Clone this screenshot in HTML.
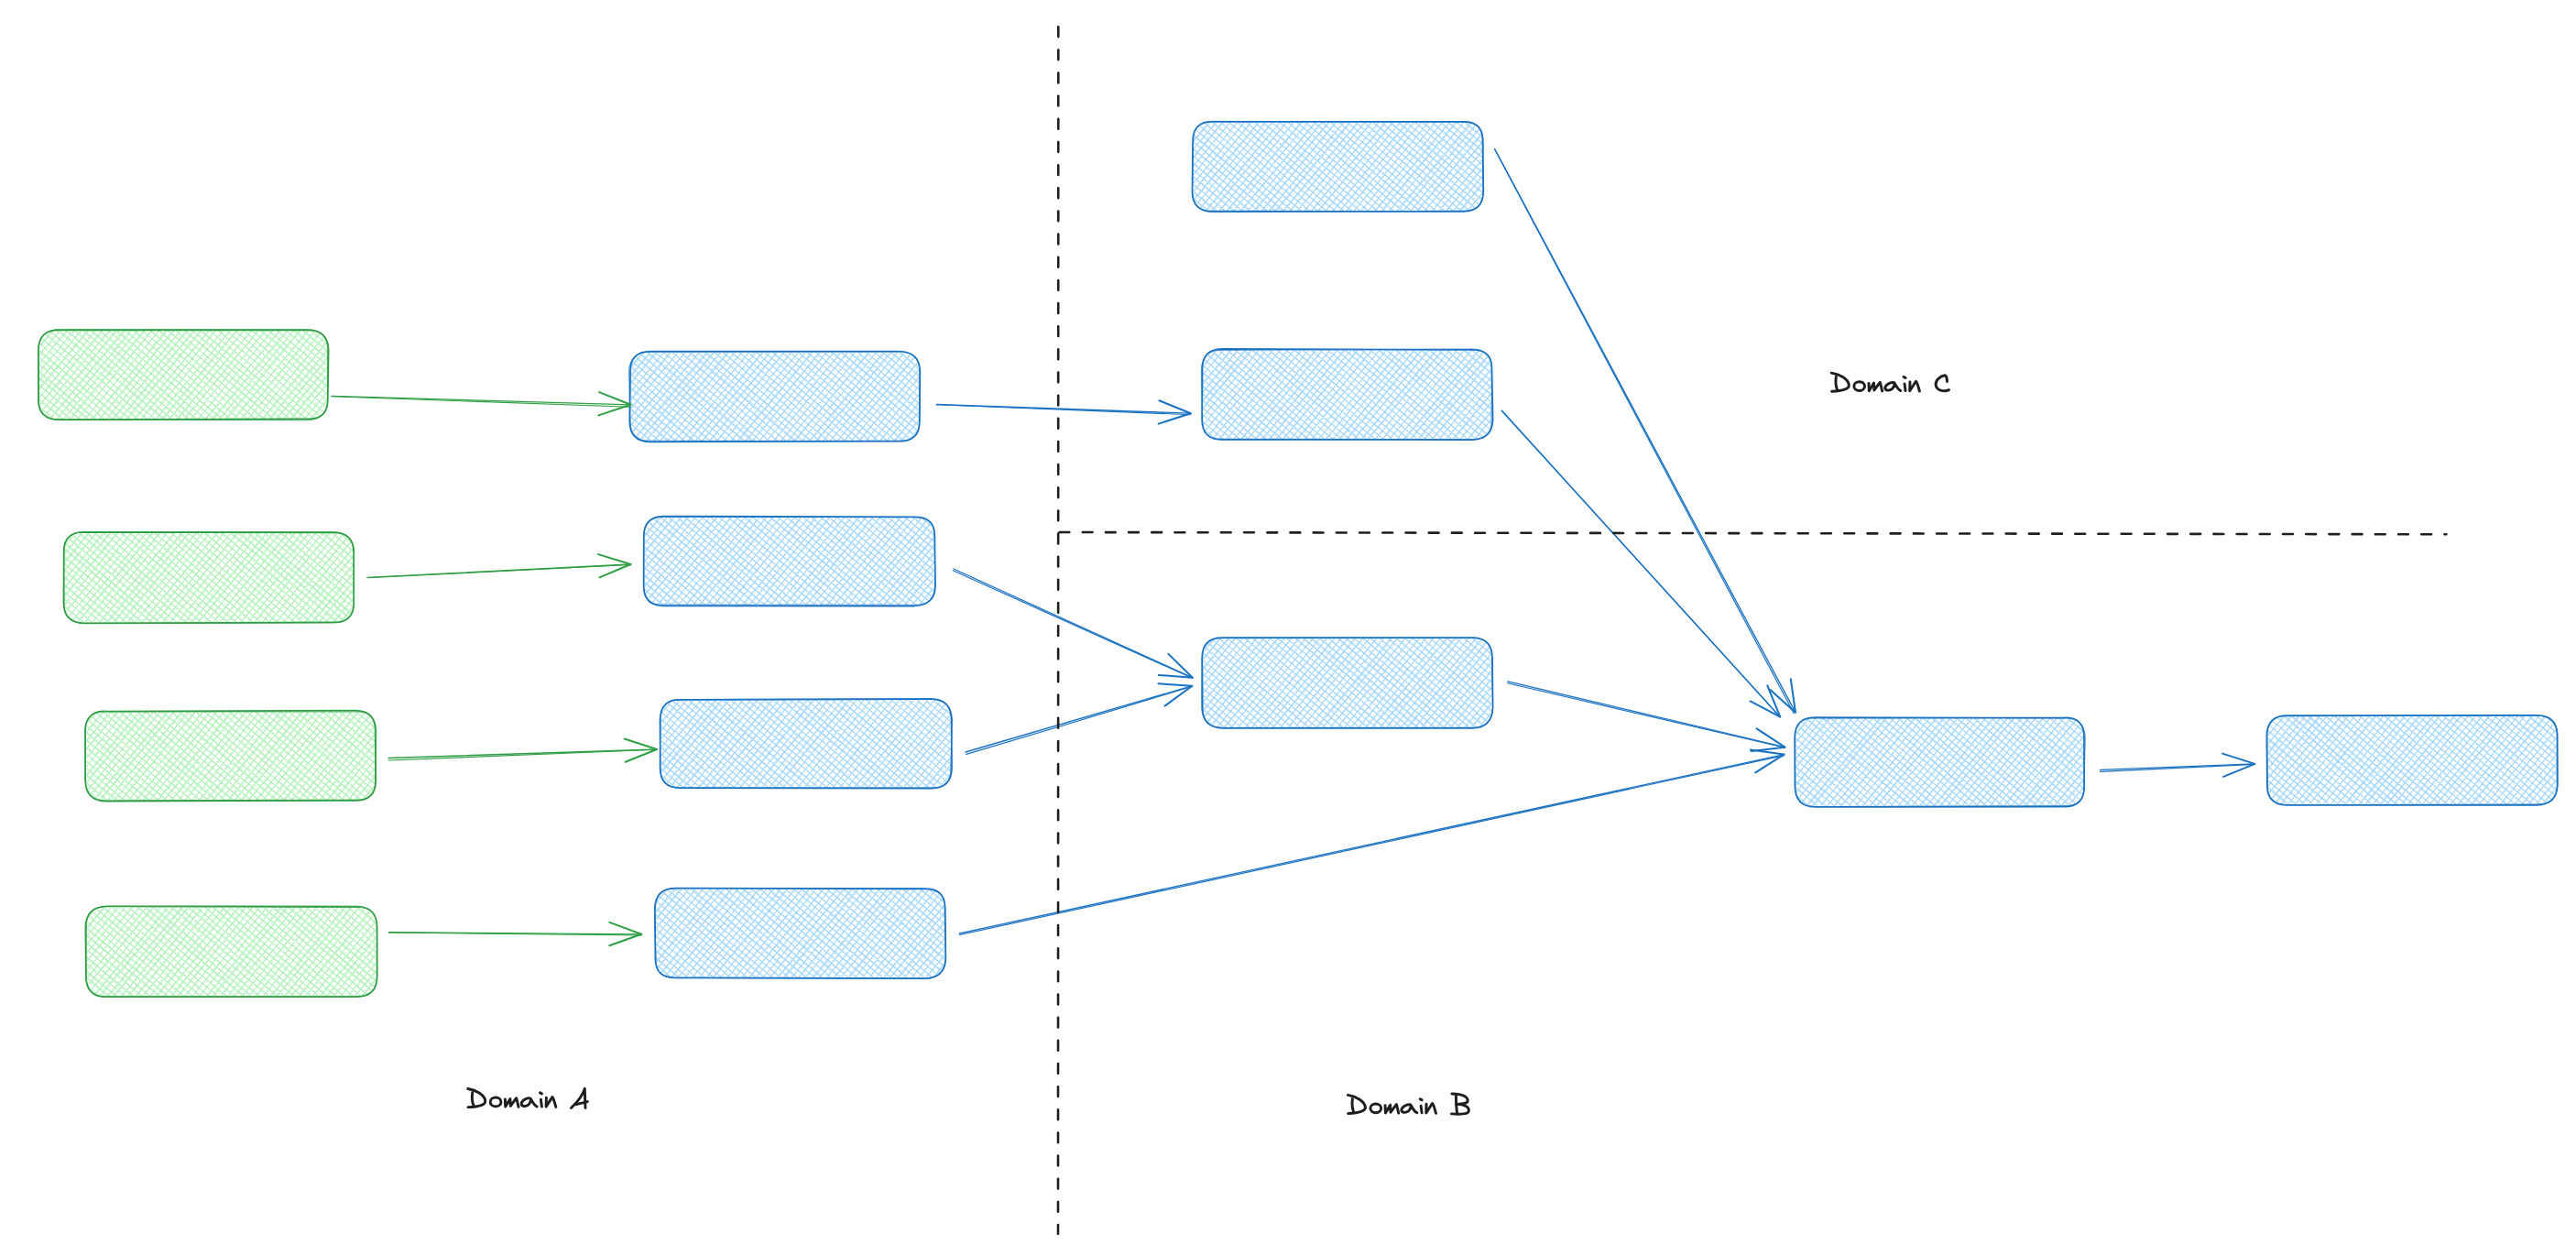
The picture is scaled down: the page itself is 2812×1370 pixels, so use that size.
<!DOCTYPE html><html><head><meta charset="utf-8"><style>html,body{margin:0;padding:0;background:#fff;}svg{display:block;}</style></head><body>
<svg width="2812" height="1370" viewBox="0 0 2812 1370">
<rect width="2812" height="1370" fill="#fff"/>
<defs><clipPath id="c0"><path d="M65 361L335 361Q357 361 357 383L357 435Q357 457 335 457L65 457Q43 457 43 435L43 383Q43 361 65 361Z"/></clipPath><clipPath id="c1"><path d="M92.5 582L363 582Q385 582 385 604L385 657Q385 679 363 679L92.5 679Q70.5 679 70.5 657L70.5 604Q70.5 582 92.5 582Z"/></clipPath><clipPath id="c2"><path d="M116.5 777L387 777Q409 777 409 799L409 851Q409 873 387 873L116.5 873Q94.5 873 94.5 851L94.5 799Q94.5 777 116.5 777Z"/></clipPath><clipPath id="c3"><path d="M117 991L388.5 991Q410.5 991 410.5 1013L410.5 1065Q410.5 1087 388.5 1087L117 1087Q95 1087 95 1065L95 1013Q95 991 117 991Z"/></clipPath><clipPath id="c4"><path d="M710.5 385L981 385Q1003 385 1003 407L1003 459Q1003 481 981 481L710.5 481Q688.5 481 688.5 459L688.5 407Q688.5 385 710.5 385Z"/></clipPath><clipPath id="c5"><path d="M725.5 565L997.5 565Q1019.5 565 1019.5 587L1019.5 638Q1019.5 660 997.5 660L725.5 660Q703.5 660 703.5 638L703.5 587Q703.5 565 725.5 565Z"/></clipPath><clipPath id="c6"><path d="M744 764.5L1015.5 764.5Q1037.5 764.5 1037.5 786.5L1037.5 837.5Q1037.5 859.5 1015.5 859.5L744 859.5Q722 859.5 722 837.5L722 786.5Q722 764.5 744 764.5Z"/></clipPath><clipPath id="c7"><path d="M738 971L1009 971Q1031 971 1031 993L1031 1044.5Q1031 1066.5 1009 1066.5L738 1066.5Q716 1066.5 716 1044.5L716 993Q716 971 738 971Z"/></clipPath><clipPath id="c8"><path d="M1325 133.5L1596 133.5Q1618 133.5 1618 155.5L1618 208Q1618 230 1596 230L1325 230Q1303 230 1303 208L1303 155.5Q1303 133.5 1325 133.5Z"/></clipPath><clipPath id="c9"><path d="M1335 382.5L1606 382.5Q1628 382.5 1628 404.5L1628 457Q1628 479 1606 479L1335 479Q1313 479 1313 457L1313 404.5Q1313 382.5 1335 382.5Z"/></clipPath><clipPath id="c10"><path d="M1335.5 697L1606 697Q1628 697 1628 719L1628 771.5Q1628 793.5 1606 793.5L1335.5 793.5Q1313.5 793.5 1313.5 771.5L1313.5 719Q1313.5 697 1335.5 697Z"/></clipPath><clipPath id="c11"><path d="M1982.5 784L2252.5 784Q2274.5 784 2274.5 806L2274.5 857.5Q2274.5 879.5 2252.5 879.5L1982.5 879.5Q1960.5 879.5 1960.5 857.5L1960.5 806Q1960.5 784 1982.5 784Z"/></clipPath><clipPath id="c12"><path d="M2497.5 782L2768.5 782Q2790.5 782 2790.5 804L2790.5 855.5Q2790.5 877.5 2768.5 877.5L2497.5 877.5Q2475.5 877.5 2475.5 855.5L2475.5 804Q2475.5 782 2497.5 782Z"/></clipPath></defs>
<g clip-path="url(#c0)"><path d="M35.5 90.3 L542.4 515.7M31.7 94.9 L538.6 520.2M27.9 99.4 L534.8 524.7M24.1 103.9 L531 529.3M20.3 108.5 L527.2 533.8M16.5 113 L523.4 538.3M12.7 117.6 L519.6 542.9M8.9 122.1 L515.7 547.4M5.1 126.6 L511.9 552M1.2 131.2 L508.1 556.5M-2.6 135.7 L504.3 561M-6.4 140.2 L500.5 565.6M-10.2 144.8 L496.7 570.1M-14 149.3 L492.9 574.6M-17.8 153.8 L489.1 579.2M-21.6 158.4 L485.3 583.7M-25.4 162.9 L481.5 588.2M-29.2 167.4 L477.7 592.8M-33 172 L473.9 597.3M-36.8 176.5 L470.1 601.8M-40.6 181 L466.3 606.4M-44.4 185.6 L462.5 610.9M-48.2 190.1 L458.7 615.4M-52 194.6 L454.9 620M-55.8 199.2 L451.1 624.5M-59.6 203.7 L447.3 629M-63.4 208.3 L443.4 633.6M-67.2 212.8 L439.6 638.1M-71.1 217.3 L435.8 642.6M-74.9 221.9 L432 647.2M-78.7 226.4 L428.2 651.7M-82.5 230.9 L424.4 656.3M-86.3 235.5 L420.6 660.8M-90.1 240 L416.8 665.3M-93.9 244.5 L413 669.9M-97.7 249.1 L409.2 674.4M-101.5 253.6 L405.4 678.9M-105.3 258.1 L401.6 683.5M-109.1 262.7 L397.8 688M-112.9 267.2 L394 692.5M-116.7 271.7 L390.2 697.1M-120.5 276.3 L386.4 701.6M-124.3 280.8 L382.6 706.1M-128.1 285.3 L378.8 710.7M-131.9 289.9 L375 715.2M-135.7 294.4 L371.1 719.7M-139.5 299 L367.3 724.3M-143.4 303.5 L363.5 728.8M527.8 252.1 L102.4 759M523.2 248.3 L97.9 755.2M518.7 244.5 L93.4 751.4M514.2 240.7 L88.8 747.6M509.6 236.9 L84.3 743.8M505.1 233.1 L79.8 740M500.6 229.3 L75.2 736.2M496 225.5 L70.7 732.4M491.5 221.7 L66.2 728.6M487 217.9 L61.6 724.8M482.4 214.1 L57.1 721M477.9 210.3 L52.6 717.2M473.4 206.5 L48 713.4M468.8 202.7 L43.5 709.6M464.3 198.9 L39 705.8M459.7 195.1 L34.4 702M455.2 191.3 L29.9 698.1M450.7 187.5 L25.3 694.3M446.1 183.6 L20.8 690.5M441.6 179.8 L16.3 686.7M437.1 176 L11.7 682.9M432.5 172.2 L7.2 679.1M428 168.4 L2.7 675.3M423.5 164.6 L-1.9 671.5M418.9 160.8 L-6.4 667.7M414.4 157 L-10.9 663.9M409.9 153.2 L-15.5 660.1M405.3 149.4 L-20 656.3M400.8 145.6 L-24.5 652.5M396.3 141.8 L-29.1 648.7M391.7 138 L-33.6 644.9M387.2 134.2 L-38.1 641.1M382.7 130.4 L-42.7 637.3M378.1 126.6 L-47.2 633.5M373.6 122.8 L-51.7 629.7M369 119 L-56.3 625.8M364.5 115.2 L-60.8 622M360 111.3 L-65.4 618.2M355.4 107.5 L-69.9 614.4M350.9 103.7 L-74.4 610.6M346.4 99.9 L-79 606.8M341.8 96.1 L-83.5 603M337.3 92.3 L-88 599.2M332.8 88.5 L-92.6 595.4M328.2 84.7 L-97.1 591.6M323.7 80.9 L-101.6 587.8M319.2 77.1 L-106.2 584M314.6 73.3 L-110.7 580.2M310.1 69.5 L-115.2 576.4M305.6 65.7 L-119.8 572.6M301 61.9 L-124.3 568.8M296.5 58.1 L-128.8 565" stroke="#b2f2bb" stroke-width="1.05" fill="none"/><path d="M34.7 91.3 L542.2 515.8M31.9 94.7 L537.7 521.2M28.7 98.4 L534.1 525.5M24.5 103.5 L531.6 528.5M21 107.7 L527.5 533.4M15.9 113.7 L523.9 537.7M12.5 117.7 L519.3 543.2M9.1 121.8 L515.7 547.5M5.8 125.7 L512.7 551M1.8 130.5 L507.8 556.9M-2.4 135.5 L504.7 560.6M-6.5 140.4 L500.6 565.5M-9.8 144.3 L496.2 570.7M-14.3 149.7 L493.4 574.1M-17.9 154 L489.1 579.2M-22.3 159.2 L484.9 584.2M-25 162.4 L480.6 589.3M-28.5 166.6 L477.8 592.6M-33.5 172.5 L474.5 596.6M-36.8 176.5 L470.9 600.8M-40.9 181.4 L465.8 606.9M-44.5 185.7 L461.8 611.7M-47.9 189.7 L458.3 615.9M-52.2 194.8 L454.7 620.1M-55.8 199.1 L450.4 625.2M-60.4 204.7 L447.3 629M-63.7 208.6 L444.2 632.6M-67.6 213.2 L439.4 638.4M-71.9 218.4 L435.3 643.3M-74.5 221.4 L432.2 646.9M-79 226.8 L429.1 650.7M-82.4 230.8 L425 655.5M-85.6 234.6 L421.4 659.8M-90.6 240.6 L417.5 664.5M-93.4 244 L413.2 669.6M-98.4 249.9 L410 673.5M-101.4 253.5 L405.3 679M-106 259 L401 684.1M-109.8 263.5 L398.2 687.5M-112.8 267 L394.2 692.2M-117.4 272.6 L389.3 698.1M-119.9 275.5 L386.9 700.9M-123.8 280.2 L383 705.6M-128.1 285.3 L378.6 710.9M-131.5 289.4 L375.8 714.1M-135.6 294.2 L371.4 719.5M-139.7 299.1 L366.5 725.3M-143.7 303.9 L363.5 728.8M527.4 251.8 L103.4 759.8M522.4 247.6 L97.3 754.7M517.9 243.9 L92.7 750.9M514.4 240.9 L89.1 747.8M510.5 237.6 L84 743.6M506 233.9 L80.7 740.8M501.2 229.8 L76 736.8M496.4 225.8 L71.7 733.2M492.6 222.6 L66.9 729.2M487.8 218.6 L61.9 725M483.4 214.9 L56.3 720.3M477.6 210.1 L53.3 717.8M473.9 206.9 L48.4 713.6M469.1 202.9 L44.3 710.2M463.5 198.2 L37.9 704.9M459.8 195.1 L34.5 702M456.1 192 L30.7 698.9M451 187.7 L25.9 694.8M445.4 183.1 L21.5 691.1M442.6 180.7 L15.3 685.9M437 176 L12.5 683.6M432.4 172.2 L8.2 680M427.9 168.4 L1.6 674.5M422.7 164 L-2.3 671.2M419.4 161.2 L-6.1 667.9M415.1 157.6 L-11.5 663.4M409.8 153.1 L-16.1 659.6M405.7 149.7 L-19.4 656.8M400.1 145 L-25.6 651.6M395.5 141.2 L-29.7 648.1M391 137.4 L-34.1 644.4M387.8 134.7 L-38.2 641M383 130.6 L-41.7 638.1M379.1 127.4 L-46.7 633.9M374.1 123.2 L-52.2 629.3M368.1 118.1 L-56.2 625.9M363.6 114.4 L-61.9 621.2M359 110.5 L-65.1 618.5M356 108 L-69.3 614.9M351.6 104.3 L-73.8 611.2M346.1 99.7 L-79.8 606.1M341.1 95.5 L-83.4 603.1M337 92 L-88.7 598.7M333.7 89.3 L-92.9 595.1M327.4 84 L-97.7 591.1M323.2 80.5 L-101.6 587.8M319.9 77.7 L-106.8 583.5M315 73.6 L-111.3 579.6M309.1 68.6 L-115 576.6M305.8 65.9 L-120.7 571.8M300.5 61.5 L-123.6 569.4M297.3 58.7 L-128.1 565.6" stroke="#b2f2bb" stroke-width="0.95" fill="none"/></g>
<path d="M64.5 360.4L335.6 360.4Q358 360 358.6 382.2L357.8 436.1Q358 458 335.6 457.4L64.6 458.2Q42 458 42 436.5L41.9 382.4Q42 360 64.5 360.4Z" stroke="#2f9e44" stroke-width="1.75" fill="none"/>
<path d="M64.7 359.4L335.5 359.6Q358 360 357.5 382.2L357.5 435.8Q358 458 335.3 458.8L63.7 457.9Q42 458 42.2 436.8L41.8 382.8Q42 360 64.7 359.4Z" stroke="#2f9e44" stroke-width="1" fill="none" opacity="0.75"/>
<g clip-path="url(#c1)"><path d="M60.8 313.5 L568.9 739.8M57 318 L565.1 744.4M53.2 322.6 L561.3 748.9M49.4 327.1 L557.5 753.4M45.6 331.7 L553.7 758M41.8 336.2 L549.9 762.5M38 340.7 L546.1 767M34.2 345.3 L542.3 771.6M30.4 349.8 L538.5 776.1M26.6 354.3 L534.7 780.7M22.8 358.9 L530.9 785.2M19 363.4 L527 789.7M15.2 367.9 L523.2 794.3M11.4 372.5 L519.4 798.8M7.6 377 L515.6 803.3M3.8 381.5 L511.8 807.9M-0.1 386.1 L508 812.4M-3.9 390.6 L504.2 816.9M-7.7 395.1 L500.4 821.5M-11.5 399.7 L496.6 826M-15.3 404.2 L492.8 830.5M-19.1 408.7 L489 835.1M-22.9 413.3 L485.2 839.6M-26.7 417.8 L481.4 844.1M-30.5 422.4 L477.6 848.7M-34.3 426.9 L473.8 853.2M-38.1 431.4 L470 857.7M-41.9 436 L466.2 862.3M-45.7 440.5 L462.4 866.8M-49.5 445 L458.6 871.4M-53.3 449.6 L454.7 875.9M-57.1 454.1 L450.9 880.4M-60.9 458.6 L447.1 885M-64.7 463.2 L443.3 889.5M-68.5 467.7 L439.5 894M-72.4 472.2 L435.7 898.6M-76.2 476.8 L431.9 903.1M-80 481.3 L428.1 907.6M-83.8 485.8 L424.3 912.2M-87.6 490.4 L420.5 916.7M-91.4 494.9 L416.7 921.2M-95.2 499.4 L412.9 925.8M-99 504 L409.1 930.3M-102.8 508.5 L405.3 934.8M-106.6 513.1 L401.5 939.4M-110.4 517.6 L397.7 943.9M-114.2 522.1 L393.9 948.4M558.2 474.9 L131.9 983M553.7 471.1 L127.4 979.2M549.2 467.3 L122.8 975.4M544.6 463.5 L118.3 971.6M540.1 459.7 L113.8 967.8M535.6 455.9 L109.2 964M531 452.1 L104.7 960.2M526.5 448.3 L100.2 956.3M522 444.5 L95.6 952.5M517.4 440.7 L91.1 948.7M512.9 436.9 L86.6 944.9M508.4 433.1 L82 941.1M503.8 429.2 L77.5 937.3M499.3 425.4 L73 933.5M494.7 421.6 L68.4 929.7M490.2 417.8 L63.9 925.9M485.7 414 L59.4 922.1M481.1 410.2 L54.8 918.3M476.6 406.4 L50.3 914.5M472.1 402.6 L45.7 910.7M467.5 398.8 L41.2 906.9M463 395 L36.7 903.1M458.5 391.2 L32.1 899.3M453.9 387.4 L27.6 895.5M449.4 383.6 L23.1 891.7M444.9 379.8 L18.5 887.9M440.3 376 L14 884M435.8 372.2 L9.5 880.2M431.3 368.4 L4.9 876.4M426.7 364.6 L0.4 872.6M422.2 360.7 L-4.1 868.8M417.7 356.9 L-8.7 865M413.1 353.1 L-13.2 861.2M408.6 349.3 L-17.7 857.4M404 345.5 L-22.3 853.6M399.5 341.7 L-26.8 849.8M395 337.9 L-31.3 846M390.4 334.1 L-35.9 842.2M385.9 330.3 L-40.4 838.4M381.4 326.5 L-45 834.6M376.8 322.7 L-49.5 830.8M372.3 318.9 L-54 827M367.8 315.1 L-58.6 823.2M363.2 311.3 L-63.1 819.4M358.7 307.5 L-67.6 815.6M354.2 303.7 L-72.2 811.7M349.6 299.9 L-76.7 807.9M345.1 296.1 L-81.2 804.1M340.6 292.3 L-85.8 800.3M336 288.4 L-90.3 796.5M331.5 284.6 L-94.8 792.7M327 280.8 L-99.4 788.9" stroke="#b2f2bb" stroke-width="1.05" fill="none"/><path d="M60.7 313.6 L569.4 739.3M57.4 317.6 L564.6 745M53.2 322.6 L561.2 749M48.9 327.7 L556.7 754.3M45.7 331.5 L553.5 758.2M41.8 336.2 L549.9 762.5M37.7 341.1 L546.2 766.9M34.1 345.3 L542.3 771.5M29.6 350.7 L538.1 776.5M25.9 355.1 L533.9 781.6M23.2 358.3 L530.7 785.3M18.2 364.3 L526.4 790.5M15.8 367.2 L523.9 793.4M11.5 372.3 L520.2 797.9M8 376.4 L516.4 802.4M3.4 381.9 L511.3 808.5M-0.8 386.9 L508.6 811.7M-4.2 391.1 L503.9 817.3M-7 394.4 L499.7 822.3M-12.3 400.7 L497.1 825.4M-16.1 405.2 L493 830.3M-19.1 408.7 L488.1 836.1M-23.5 414 L485.8 838.9M-26.6 417.7 L481.4 844.2M-30.2 422 L478.1 848M-34 426.5 L473.4 853.7M-37.2 430.4 L469.9 857.9M-41.8 435.8 L467 861.3M-45.4 440.1 L462.1 867.1M-49.5 445.1 L459.3 870.4M-54.2 450.6 L454.2 876.5M-58 455.1 L451.7 879.6M-60.5 458.1 L448 884M-65.2 463.8 L443.7 889M-67.9 466.9 L439.7 893.9M-73.1 473.1 L435.1 899.2M-75.7 476.3 L432.5 902.3M-80.7 482.2 L428 907.8M-84.1 486.3 L425 911.3M-86.8 489.4 L420.2 917.1M-91.2 494.8 L417.5 920.3M-96 500.4 L412.6 926.1M-99.5 504.6 L409.8 929.4M-103.4 509.3 L406.1 933.9M-107.3 513.8 L401.6 939.3M-110.1 517.2 L397.6 944M-115 523 L394.3 948M558.2 474.9 L132.5 983.5M554.5 471.8 L128.1 979.8M550.1 468.1 L123.5 975.9M545 463.8 L118.7 971.9M539.5 459.2 L114.2 968.1M535.6 455.9 L109.9 964.5M531.4 452.4 L105.7 961M527 448.7 L101.2 957.2M521.5 444 L95.5 952.4M518.1 441.2 L91.2 948.8M512 436.1 L87.4 945.6M507.7 432.5 L82.2 941.2M503.8 429.3 L76.8 936.7M499.5 425.6 L72.9 933.5M494.3 421.3 L67.4 928.8M490.5 418.1 L63.2 925.3M485.2 413.7 L59.1 921.9M481.3 410.4 L55.1 918.6M477.6 407.2 L51.1 915.2M473 403.4 L45.2 910.2M468.1 399.2 L41.9 907.5M463.9 395.7 L35.9 902.5M457.7 390.5 L31.8 899M454.4 387.8 L28.2 895.9M449.8 384 L23.2 891.7M445.6 380.4 L18.7 887.9M440.8 376.4 L13 883.2M434.8 371.3 L9.4 880.2M431.8 368.8 L3.9 875.6M427.1 364.9 L0.7 872.9M423.3 361.6 L-3.9 869M417.7 357 L-8.7 865M413.8 353.7 L-13.2 861.2M409.6 350.2 L-17.2 857.8M404.9 346.3 L-22.1 853.8M400.5 342.5 L-25.8 850.7M395.4 338.3 L-30.8 846.5M390.3 334 L-35.9 842.1M385.4 329.9 L-40.8 838.1M380.9 326.1 L-45.8 833.9M377.1 322.9 L-49.1 831.1M371.3 318 L-53.3 827.6M367.3 314.7 L-58.9 822.9M364.2 312.1 L-63.8 818.8M357.9 306.8 L-67.9 815.3M353.7 303.2 L-72.8 811.2M350.4 300.5 L-76.7 807.9M345.1 296.1 L-82 803.5M339.9 291.7 L-86.5 799.7M335.8 288.3 L-91.1 795.8M331.1 284.3 L-95.3 792.4M327.5 281.3 L-98.4 789.8" stroke="#b2f2bb" stroke-width="0.95" fill="none"/></g>
<path d="M91.1 580.8L363.5 581.4Q386 581 386.1 603.2L386.2 658.2Q386 680 364 679.4L91.9 680.3Q69.5 680 69.5 658L69.7 602.5Q69.5 581 91.1 580.8Z" stroke="#2f9e44" stroke-width="1.75" fill="none"/>
<path d="M92 580.5L363.1 580.5Q386 581 386.5 602.4L386.5 659Q386 680 364 679.8L91.5 680.4Q69.5 680 70 658.2L69.8 602.2Q69.5 581 92 580.5Z" stroke="#2f9e44" stroke-width="1" fill="none" opacity="0.75"/>
<g clip-path="url(#c2)"><path d="M85.9 507.2 L593.5 933.2M82.1 511.8 L589.7 937.7M78.3 516.3 L585.9 942.3M74.5 520.8 L582.1 946.8M70.6 525.4 L578.3 951.3M66.8 529.9 L574.5 955.9M63 534.5 L570.7 960.4M59.2 539 L566.8 964.9M55.4 543.5 L563 969.5M51.6 548.1 L559.2 974M47.8 552.6 L555.4 978.5M44 557.1 L551.6 983.1M40.2 561.7 L547.8 987.6M36.4 566.2 L544 992.1M32.6 570.7 L540.2 996.7M28.8 575.3 L536.4 1001.2M25 579.8 L532.6 1005.7M21.2 584.3 L528.8 1010.3M17.4 588.9 L525 1014.8M13.6 593.4 L521.2 1019.3M9.8 597.9 L517.4 1023.9M6 602.5 L513.6 1028.4M2.2 607 L509.8 1033M-1.7 611.5 L506 1037.5M-5.5 616.1 L502.2 1042M-9.3 620.6 L498.4 1046.6M-13.1 625.2 L494.5 1051.1M-16.9 629.7 L490.7 1055.6M-20.7 634.2 L486.9 1060.2M-24.5 638.8 L483.1 1064.7M-28.3 643.3 L479.3 1069.2M-32.1 647.8 L475.5 1073.8M-35.9 652.4 L471.7 1078.3M-39.7 656.9 L467.9 1082.8M-43.5 661.4 L464.1 1087.4M-47.3 666 L460.3 1091.9M-51.1 670.5 L456.5 1096.4M-54.9 675 L452.7 1101M-58.7 679.6 L448.9 1105.5M-62.5 684.1 L445.1 1110M-66.3 688.6 L441.3 1114.6M-70.2 693.2 L437.5 1119.1M-74 697.7 L433.7 1123.7M-77.8 702.2 L429.9 1128.2M-81.6 706.8 L426.1 1132.7M-85.4 711.3 L422.2 1137.3M-89.2 715.9 L418.4 1141.8M582 669.6 L156.1 1177.2M577.5 665.8 L151.5 1173.4M572.9 662 L147 1169.6M568.4 658.2 L142.4 1165.8M563.9 654.4 L137.9 1162M559.3 650.6 L133.4 1158.2M554.8 646.8 L128.8 1154.4M550.3 643 L124.3 1150.6M545.7 639.2 L119.8 1146.8M541.2 635.3 L115.2 1143M536.6 631.5 L110.7 1139.2M532.1 627.7 L106.2 1135.4M527.6 623.9 L101.6 1131.6M523 620.1 L97.1 1127.7M518.5 616.3 L92.6 1123.9M514 612.5 L88 1120.1M509.4 608.7 L83.5 1116.3M504.9 604.9 L79 1112.5M500.4 601.1 L74.4 1108.7M495.8 597.3 L69.9 1104.9M491.3 593.5 L65.4 1101.1M486.8 589.7 L60.8 1097.3M482.2 585.9 L56.3 1093.5M477.7 582.1 L51.8 1089.7M473.2 578.3 L47.2 1085.9M468.6 574.5 L42.7 1082.1M464.1 570.7 L38.1 1078.3M459.6 566.9 L33.6 1074.5M455 563 L29.1 1070.7M450.5 559.2 L24.5 1066.9M445.9 555.4 L20 1063.1M441.4 551.6 L15.5 1059.3M436.9 547.8 L10.9 1055.4M432.3 544 L6.4 1051.6M427.8 540.2 L1.9 1047.8M423.3 536.4 L-2.7 1044M418.7 532.6 L-7.2 1040.2M414.2 528.8 L-11.7 1036.4M409.7 525 L-16.3 1032.6M405.1 521.2 L-20.8 1028.8M400.6 517.4 L-25.3 1025M396.1 513.6 L-29.9 1021.2M391.5 509.8 L-34.4 1017.4M387 506 L-38.9 1013.6M382.5 502.2 L-43.5 1009.8M377.9 498.4 L-48 1006M373.4 494.6 L-52.6 1002.2M368.9 490.7 L-57.1 998.4M364.3 486.9 L-61.6 994.6M359.8 483.1 L-66.2 990.8M355.2 479.3 L-70.7 987M350.7 475.5 L-75.2 983.1" stroke="#b2f2bb" stroke-width="1.05" fill="none"/><path d="M86.4 506.6 L592.6 934.2M81.3 512.7 L590.5 936.7M78.3 516.2 L585.3 942.9M73.6 521.9 L582.2 946.7M71.1 524.9 L578.8 950.7M66 530.9 L575 955.2M62.9 534.6 L571.3 959.6M59.2 539 L566 965.9M56.1 542.7 L562.5 970.2M51.6 548.1 L558.5 974.8M47.4 553 L555.9 978M43.3 558 L551.7 983M41.1 560.6 L548.7 986.5M36.4 566.2 L544.1 992M32.9 570.3 L540.9 995.9M29.1 574.9 L536.7 1000.8M24.4 580.5 L533.5 1004.7M20.7 584.9 L528.2 1011M18.1 588.1 L524.2 1015.7M13.2 593.9 L520.5 1020.2M10.1 597.5 L517.6 1023.6M6.1 602.2 L512.7 1029.5M2 607.2 L510 1032.7M-1.5 611.4 L506.4 1037M-4.6 615.1 L502.9 1041.2M-9.9 621.3 L498.7 1046.1M-13.9 626.1 L495 1050.6M-16.5 629.2 L490.7 1055.7M-20.1 633.6 L487.2 1059.9M-25.3 639.7 L482.4 1065.5M-28.9 644 L479.1 1069.5M-32.8 648.7 L474.7 1074.7M-36 652.5 L471.3 1078.8M-38.9 655.9 L467.5 1083.3M-43.4 661.3 L463.7 1087.9M-47.6 666.3 L460.7 1091.5M-50.3 669.5 L455.7 1097.4M-54.3 674.2 L452.7 1100.9M-58.5 679.2 L449.2 1105.1M-63 684.6 L444.2 1111.1M-65.9 688.1 L441 1114.9M-69.8 692.7 L437.4 1119.2M-73.8 697.5 L434.3 1122.9M-77.2 701.5 L430.4 1127.6M-82.3 707.7 L426.1 1132.7M-84.9 710.7 L421.5 1138.1M-90.1 716.9 L418.5 1141.7M582.7 670.2 L156.9 1178M577.8 666.1 L152.4 1174.1M573.5 662.5 L147.5 1170M568.2 658.1 L141.6 1165.1M563.3 653.9 L138.1 1162.2M559.5 650.7 L133.3 1158.1M555.1 647 L129.2 1154.7M551.2 643.7 L124.8 1151M544.7 638.3 L120.6 1147.4M541.2 635.3 L115 1142.7M535.9 630.9 L111.3 1139.7M532.6 628.2 L106.7 1135.8M527.8 624.1 L101.8 1131.7M522.1 619.3 L96.4 1127.1M517.7 615.7 L93.6 1124.8M515 613.4 L87.6 1119.8M508.6 608 L83.6 1116.4M504.7 604.7 L80 1113.4M500.6 601.3 L73.5 1108M495.1 596.7 L69.1 1104.3M490.3 592.6 L65.9 1101.6M487.6 590.4 L61.6 1097.9M482.2 585.8 L55.9 1093.2M476.7 581.3 L51.3 1089.3M472.8 578 L46.6 1085.4M468.7 574.5 L42.6 1082M465.1 571.5 L37.5 1077.8M460.1 567.3 L32.7 1073.7M454.7 562.8 L29.5 1071M451.3 559.9 L25.1 1067.3M445.7 555.2 L19.6 1062.7M442.2 552.3 L16.4 1060M436.8 547.8 L10.8 1055.3M432.6 544.2 L7 1052.1M427.6 540 L2.9 1048.7M423.7 536.8 L-2.6 1044.1M417.8 531.8 L-7.5 1040M413.4 528.1 L-11.7 1036.5M410.2 525.5 L-15.7 1033.1M404.1 520.4 L-21.2 1028.4M401 517.7 L-24.3 1025.9M396.1 513.6 L-30.3 1020.9M391.7 509.9 L-33.9 1017.8M386.6 505.7 L-39.9 1012.8M383 502.7 L-42.5 1010.6M378.3 498.6 L-47.8 1006.1M373 494.2 L-51.9 1002.7M368.2 490.2 L-57.6 997.9M364.3 486.9 L-61 995.1M358.8 482.3 L-65.8 991.1M354.6 478.8 L-70.1 987.4M351.3 476 L-75.8 982.7" stroke="#b2f2bb" stroke-width="0.95" fill="none"/></g>
<path d="M115.3 776.5L388 775.6Q410 776 409.7 797.9L410.2 852.5Q410 874 387.6 873.9L115.2 874.6Q93.5 874 93.1 851.5L93 797.9Q93.5 776 115.3 776.5Z" stroke="#2f9e44" stroke-width="1.75" fill="none"/>
<path d="M116.3 776.8L388.5 777Q410 776 410.9 797.7L409.4 852.9Q410 874 388.5 873.1L115.8 873.8Q93.5 874 93.2 851.7L92.8 797Q93.5 776 116.3 776.8Z" stroke="#2f9e44" stroke-width="1" fill="none" opacity="0.75"/>
<g clip-path="url(#c3)"><path d="M86.1 720.6 L595.2 1147.8M82.3 725.2 L591.4 1152.3M78.5 729.7 L587.6 1156.9M74.7 734.2 L583.8 1161.4M70.9 738.8 L580 1166M67.1 743.3 L576.2 1170.5M63.3 747.9 L572.4 1175M59.5 752.4 L568.6 1179.6M55.7 756.9 L564.8 1184.1M51.9 761.5 L561 1188.6M48.1 766 L557.2 1193.2M44.3 770.5 L553.3 1197.7M40.5 775.1 L549.5 1202.2M36.7 779.6 L545.7 1206.8M32.8 784.1 L541.9 1211.3M29 788.7 L538.1 1215.8M25.2 793.2 L534.3 1220.4M21.4 797.7 L530.5 1224.9M17.6 802.3 L526.7 1229.4M13.8 806.8 L522.9 1234M10 811.3 L519.1 1238.5M6.2 815.9 L515.3 1243M2.4 820.4 L511.5 1247.6M-1.4 824.9 L507.7 1252.1M-5.2 829.5 L503.9 1256.7M-9 834 L500.1 1261.2M-12.8 838.6 L496.3 1265.7M-16.6 843.1 L492.5 1270.3M-20.4 847.6 L488.7 1274.8M-24.2 852.2 L484.9 1279.3M-28 856.7 L481 1283.9M-31.8 861.2 L477.2 1288.4M-35.6 865.8 L473.4 1292.9M-39.5 870.3 L469.6 1297.5M-43.3 874.8 L465.8 1302M-47.1 879.4 L462 1306.5M-50.9 883.9 L458.2 1311.1M-54.7 888.4 L454.4 1315.6M-58.5 893 L450.6 1320.1M-62.3 897.5 L446.8 1324.7M-66.1 902 L443 1329.2M-69.9 906.6 L439.2 1333.7M-73.7 911.1 L435.4 1338.3M-77.5 915.6 L431.6 1342.8M-81.3 920.2 L427.8 1347.4M-85.1 924.7 L424 1351.9M-88.9 929.3 L420.2 1356.4M582.9 882.3 L155.7 1391.4M578.4 878.5 L151.2 1387.6M573.8 874.7 L146.7 1383.8M569.3 870.9 L142.1 1379.9M564.8 867.1 L137.6 1376.1M560.2 863.3 L133.1 1372.3M555.7 859.4 L128.5 1368.5M551.2 855.6 L124 1364.7M546.6 851.8 L119.5 1360.9M542.1 848 L114.9 1357.1M537.6 844.2 L110.4 1353.3M533 840.4 L105.9 1349.5M528.5 836.6 L101.3 1345.7M524 832.8 L96.8 1341.9M519.4 829 L92.3 1338.1M514.9 825.2 L87.7 1334.3M510.4 821.4 L83.2 1330.5M505.8 817.6 L78.6 1326.7M501.3 813.8 L74.1 1322.9M496.7 810 L69.6 1319.1M492.2 806.2 L65 1315.3M487.7 802.4 L60.5 1311.5M483.1 798.6 L56 1307.6M478.6 794.8 L51.4 1303.8M474.1 791 L46.9 1300M469.5 787.1 L42.4 1296.2M465 783.3 L37.8 1292.4M460.5 779.5 L33.3 1288.6M455.9 775.7 L28.8 1284.8M451.4 771.9 L24.2 1281M446.9 768.1 L19.7 1277.2M442.3 764.3 L15.2 1273.4M437.8 760.5 L10.6 1269.6M433.3 756.7 L6.1 1265.8M428.7 752.9 L1.6 1262M424.2 749.1 L-3 1258.2M419.7 745.3 L-7.5 1254.4M415.1 741.5 L-12.1 1250.6M410.6 737.7 L-16.6 1246.8M406 733.9 L-21.1 1243M401.5 730.1 L-25.7 1239.1M397 726.3 L-30.2 1235.3M392.4 722.5 L-34.7 1231.5M387.9 718.7 L-39.3 1227.7M383.4 714.8 L-43.8 1223.9M378.8 711 L-48.3 1220.1M374.3 707.2 L-52.9 1216.3M369.8 703.4 L-57.4 1212.5M365.2 699.6 L-61.9 1208.7M360.7 695.8 L-66.5 1204.9M356.2 692 L-71 1201.1M351.6 688.2 L-75.5 1197.3" stroke="#b2f2bb" stroke-width="1.05" fill="none"/><path d="M87 719.6 L595.4 1147.6M81.8 725.8 L590.9 1152.9M79.3 728.7 L588.4 1155.9M75.5 733.3 L583 1162.3M71.3 738.3 L579.5 1166.5M66.4 744.2 L576.5 1170.1M63.7 747.4 L571.5 1176M59.3 752.6 L569 1179M55.3 757.4 L565.1 1183.7M52.3 761 L561.9 1187.6M47.6 766.5 L556.4 1194.1M44 770.8 L552.5 1198.6M41.3 774 L550 1201.7M36.7 779.5 L544.9 1207.7M32 785.1 L542.1 1211.1M29.5 788.1 L538.3 1215.7M25.2 793.2 L533.6 1221.3M22 797.1 L530 1225.6M17.2 802.8 L526.1 1230.1M13.3 807.4 L522.7 1234.2M10.3 811 L519.4 1238.1M6.5 815.6 L514.8 1243.7M3.2 819.5 L512 1246.9M-1.9 825.5 L508.1 1251.6M-4.4 828.5 L504.7 1255.7M-9.1 834.1 L500.4 1260.8M-13.7 839.6 L495.6 1266.5M-17.5 844.1 L492.9 1269.8M-19.7 846.7 L489.4 1273.9M-24.2 852.2 L484.5 1279.8M-27.9 856.6 L481.5 1283.3M-31.7 861 L477 1288.7M-36 866.1 L473 1293.5M-40.1 871 L469.3 1297.8M-42.6 874 L465.2 1302.7M-46.7 878.9 L461.9 1306.7M-50.6 883.6 L457.8 1311.6M-54.1 887.8 L454.9 1315.1M-58 892.4 L451.2 1319.4M-63 898.3 L446.7 1324.8M-65.8 901.7 L443.2 1329M-70.8 907.6 L439.2 1333.8M-73.2 910.5 L434.8 1338.9M-77.8 916 L430.7 1343.9M-80.6 919.3 L427.8 1347.3M-85.7 925.4 L423.4 1352.6M-89.7 930.1 L421 1355.4M583.7 883 L156.4 1391.9M577.4 877.6 L151 1387.4M572.9 873.9 L146.9 1384M568.5 870.2 L142.2 1380M565.3 867.5 L137 1375.6M559.3 862.5 L133.9 1373M555.5 859.3 L128.3 1368.3M551.8 856.1 L124.3 1365M547.4 852.5 L120.1 1361.5M542.6 848.5 L114.7 1356.9M537.2 844 L111 1353.8M534.1 841.3 L106.2 1349.8M528.1 836.3 L102 1346.3M524.4 833.1 L97.4 1342.4M518.8 828.5 L92.1 1338M515.8 826 L88.6 1335M510.6 821.6 L83.1 1330.4M505.5 817.3 L79.5 1327.4M502 814.4 L73.7 1322.5M496.9 810.1 L70 1319.5M492.6 806.5 L64.1 1314.4M488.1 802.7 L60.4 1311.3M483.5 798.8 L56.2 1307.8M477.8 794.1 L50.4 1302.9M474.4 791.2 L47.6 1300.6M469 786.7 L43 1296.8M466.1 784.2 L37 1291.7M460.6 779.7 L32.6 1288M456.1 775.9 L27.9 1284.1M451.5 772 L25 1281.6M447.9 769 L19.6 1277.1M442 764.1 L14.3 1272.7M438.7 761.2 L10.4 1269.4M433.5 756.9 L6.1 1265.8M429.5 753.5 L2 1262.4M424.1 749.1 L-3.9 1257.4M420.5 746 L-7.5 1254.4M414.5 740.9 L-13.1 1249.7M411.2 738.2 L-15.8 1247.4M405.1 733.1 L-22.1 1242.1M401.6 730.1 L-24.7 1240M396.1 725.5 L-30 1235.5M391.6 721.7 L-35 1231.3M387.2 718.1 L-38.5 1228.3M382.8 714.3 L-43.2 1224.4M379 711.2 L-49.1 1219.5M373.6 706.6 L-52.2 1216.9M370.4 703.9 L-57.2 1212.7M365.2 699.6 L-61.7 1208.9M361.5 696.5 L-65.9 1205.4M355.7 691.6 L-71.9 1200.4M352.6 689 L-75.7 1197.2" stroke="#b2f2bb" stroke-width="0.95" fill="none"/></g>
<path d="M116.3 989.4L389.9 989.5Q411.5 990 411.6 1012.1L411.7 1065.8Q411.5 1088 389.4 1088.1L115.9 1088.2Q94 1088 93.9 1065.9L93.4 1012.1Q94 990 116.3 989.4Z" stroke="#2f9e44" stroke-width="1.75" fill="none"/>
<path d="M116 989.5L390 990.6Q411.5 990 411.4 1011.4L411.4 1065.2Q411.5 1088 388.8 1087.9L115.2 1087.9Q94 1088 94 1065.1L94.3 1011.2Q94 990 116 989.5Z" stroke="#2f9e44" stroke-width="1" fill="none" opacity="0.75"/>
<g clip-path="url(#c4)"><path d="M679.8 115.3 L1187.4 541.3M676 119.9 L1183.6 545.8M672.2 124.4 L1179.8 550.4M668.4 128.9 L1176 554.9M664.6 133.5 L1172.2 559.4M660.8 138 L1168.4 564M656.9 142.6 L1164.6 568.5M653.1 147.1 L1160.8 573M649.3 151.6 L1157 577.6M645.5 156.2 L1153.2 582.1M641.7 160.7 L1149.3 586.6M637.9 165.2 L1145.5 591.2M634.1 169.8 L1141.7 595.7M630.3 174.3 L1137.9 600.2M626.5 178.8 L1134.1 604.8M622.7 183.4 L1130.3 609.3M618.9 187.9 L1126.5 613.8M615.1 192.4 L1122.7 618.4M611.3 197 L1118.9 622.9M607.5 201.5 L1115.1 627.5M603.7 206 L1111.3 632M599.9 210.6 L1107.5 636.5M596.1 215.1 L1103.7 641.1M592.3 219.6 L1099.9 645.6M588.5 224.2 L1096.1 650.1M584.6 228.7 L1092.3 654.7M580.8 233.3 L1088.5 659.2M577 237.8 L1084.7 663.7M573.2 242.3 L1080.9 668.3M569.4 246.9 L1077 672.8M565.6 251.4 L1073.2 677.3M561.8 255.9 L1069.4 681.9M558 260.5 L1065.6 686.4M554.2 265 L1061.8 690.9M550.4 269.5 L1058 695.5M546.6 274.1 L1054.2 700M542.8 278.6 L1050.4 704.5M539 283.1 L1046.6 709.1M535.2 287.7 L1042.8 713.6M531.4 292.2 L1039 718.2M527.6 296.7 L1035.2 722.7M523.8 301.3 L1031.4 727.2M520 305.8 L1027.6 731.8M516.2 310.3 L1023.8 736.3M512.3 314.9 L1020 740.8M508.5 319.4 L1016.2 745.4M504.7 324 L1012.4 749.9M1172.5 274.7 L746.6 782.3M1168 270.9 L742.1 778.5M1163.5 267.1 L737.5 774.7M1158.9 263.3 L733 770.9M1154.4 259.5 L728.5 767.1M1149.9 255.7 L723.9 763.3M1145.3 251.9 L719.4 759.5M1140.8 248.1 L714.8 755.7M1136.3 244.2 L710.3 751.9M1131.7 240.4 L705.8 748.1M1127.2 236.6 L701.2 744.3M1122.6 232.8 L696.7 740.5M1118.1 229 L692.2 736.6M1113.6 225.2 L687.6 732.8M1109 221.4 L683.1 729M1104.5 217.6 L678.6 725.2M1100 213.8 L674 721.4M1095.4 210 L669.5 717.6M1090.9 206.2 L665 713.8M1086.4 202.4 L660.4 710M1081.8 198.6 L655.9 706.2M1077.3 194.8 L651.4 702.4M1072.8 191 L646.8 698.6M1068.2 187.2 L642.3 694.8M1063.7 183.4 L637.8 691M1059.2 179.6 L633.2 687.2M1054.6 175.8 L628.7 683.4M1050.1 171.9 L624.1 679.6M1045.6 168.1 L619.6 675.8M1041 164.3 L615.1 672M1036.5 160.5 L610.5 668.2M1031.9 156.7 L606 664.3M1027.4 152.9 L601.5 660.5M1022.9 149.1 L596.9 656.7M1018.3 145.3 L592.4 652.9M1013.8 141.5 L587.9 649.1M1009.3 137.7 L583.3 645.3M1004.7 133.9 L578.8 641.5M1000.2 130.1 L574.3 637.7M995.7 126.3 L569.7 633.9M991.1 122.5 L565.2 630.1M986.6 118.7 L560.7 626.3M982.1 114.9 L556.1 622.5M977.5 111.1 L551.6 618.7M973 107.3 L547.1 614.9M968.5 103.5 L542.5 611.1M963.9 99.6 L538 607.3M959.4 95.8 L533.4 603.5M954.9 92 L528.9 599.7M950.3 88.2 L524.4 595.8M945.8 84.4 L519.8 592M941.2 80.6 L515.3 588.2" stroke="#a5d8ff" stroke-width="1.05" fill="none"/><path d="M680.4 114.6 L1186.9 541.9M675.2 120.8 L1184.4 544.9M672.4 124.1 L1179.3 550.9M669 128.2 L1175.3 555.7M665 133 L1171.6 560.1M661.4 137.3 L1168.4 564M656.2 143.5 L1165.1 567.9M653.6 146.6 L1160.8 573M649.7 151.2 L1157.8 576.6M646.1 155.5 L1153.8 581.4M640.9 161.6 L1149 587M637.2 166.1 L1146.1 590.5M633.6 170.4 L1142.4 594.9M630.3 174.4 L1137.7 600.5M626.8 178.5 L1133.5 605.6M622.6 183.5 L1130.2 609.5M618.2 188.7 L1127.2 613M614.2 193.5 L1122.5 618.7M611.5 196.7 L1118.4 623.6M607.9 201 L1114.2 628.5M603.5 206.2 L1111.5 631.7M599.4 211.1 L1107.6 636.4M596.6 214.4 L1103.2 641.6M593.1 218.7 L1099.3 646.3M588.9 223.7 L1095.8 650.4M583.8 229.8 L1092.1 654.8M580.5 233.6 L1088.8 658.8M577.9 236.7 L1085.5 662.7M573.9 241.6 L1080.6 668.5M569.5 246.7 L1077 672.8M564.9 252.2 L1073.9 676.5M562.3 255.3 L1069.2 682.2M558.9 259.4 L1066.5 685.3M554.5 264.7 L1062.5 690.1M550.7 269.2 L1058.5 694.9M546.4 274.2 L1054.1 700.2M543.3 278 L1050.2 704.8M539 283.1 L1047.3 708.3M534.4 288.6 L1043.3 713.1M532 291.5 L1039.7 717.3M527.3 297 L1034.5 723.5M523.3 301.9 L1031.6 727M520.4 305.3 L1028.5 730.7M515.9 310.7 L1023.7 736.4M512.6 314.6 L1019.7 741.1M508.6 319.3 L1015.4 746.3M504.3 324.5 L1012.8 749.4M1173.5 275.5 L746.5 782.3M1168.2 271.1 L742.6 779M1164.4 267.9 L736.9 774.2M1160 264.2 L732.9 770.8M1153.4 258.7 L729.2 767.7M1150.5 256.2 L723.7 763.1M1145.3 251.8 L719.1 759.2M1140.1 247.5 L715.5 756.3M1136.7 244.6 L710.7 752.2M1132.7 241.3 L704.9 747.4M1126.6 236.1 L700.8 743.9M1123.7 233.7 L696 739.8M1117.6 228.6 L692.2 736.7M1113.1 224.8 L687.7 732.9M1109.6 221.9 L683.9 729.7M1105.1 218.1 L679.6 726.1M1100.3 214.1 L673.5 721M1095 209.6 L668.8 717M1090.5 205.8 L665.5 714.2M1086.3 202.3 L660.6 710.1M1081.2 198.1 L655.8 706.2M1077.8 195.2 L651.1 702.1M1071.8 190.1 L647.4 699.1M1067.4 186.5 L643.3 695.7M1064.2 183.8 L638.3 691.5M1058.6 179.1 L632.3 686.4M1054.1 175.3 L629.1 683.7M1049.3 171.3 L624.5 679.9M1046.1 168.6 L618.7 675M1040.7 164.1 L614.7 671.6M1036.1 160.2 L609.5 667.3M1032 156.8 L605.3 663.7M1027 152.6 L600.7 659.9M1023 149.2 L596.5 656.3M1018.2 145.2 L592.8 653.3M1014.4 142 L587.6 648.9M1010.2 138.5 L582.5 644.6M1005.5 134.5 L579.8 642.4M1001 130.8 L573.3 636.9M996 126.6 L570.5 634.5M992.1 123.3 L566.2 630.9M986.2 118.3 L560.4 626.1M981.6 114.5 L555.6 622.1M978.5 111.8 L551.4 618.5M973.3 107.5 L546.4 614.3M967.8 102.9 L541.7 610.4M964.9 100.4 L537.2 606.6M958.5 95.1 L532.5 602.7M955.7 92.7 L529.5 600.2M951.2 88.9 L525.4 596.7M945 83.8 L519.2 591.5M941 80.4 L514.6 587.7" stroke="#a5d8ff" stroke-width="0.95" fill="none"/></g>
<path d="M709.7 383.7L981.5 383.5Q1004 384 1004.3 405.6L1003.8 459.9Q1004 482 981.4 481.7L709.2 482.3Q687.5 482 687.3 459.8L688.1 406Q687.5 384 709.7 383.7Z" stroke="#1971c2" stroke-width="1.75" fill="none"/>
<path d="M710.2 384.2L981.1 383.8Q1004 384 1003.9 406.5L1003.7 460.4Q1004 482 982.1 481.4L710.2 481.2Q687.5 482 688.1 459.3L686.5 405.4Q687.5 384 710.2 384.2Z" stroke="#1971c2" stroke-width="1" fill="none" opacity="0.75"/>
<g clip-path="url(#c5)"><path d="M693.9 295 L1203.3 722.4M690.1 299.5 L1199.5 726.9M686.3 304.1 L1195.7 731.5M682.5 308.6 L1191.9 736M678.7 313.1 L1188.1 740.5M674.9 317.7 L1184.3 745.1M671.1 322.2 L1180.5 749.6M667.3 326.7 L1176.6 754.1M663.5 331.3 L1172.8 758.7M659.7 335.8 L1169 763.2M655.9 340.3 L1165.2 767.7M652.1 344.9 L1161.4 772.3M648.3 349.4 L1157.6 776.8M644.5 353.9 L1153.8 781.4M640.6 358.5 L1150 785.9M636.8 363 L1146.2 790.4M633 367.5 L1142.4 795M629.2 372.1 L1138.6 799.5M625.4 376.6 L1134.8 804M621.6 381.2 L1131 808.6M617.8 385.7 L1127.2 813.1M614 390.2 L1123.4 817.6M610.2 394.8 L1119.6 822.2M606.4 399.3 L1115.8 826.7M602.6 403.8 L1112 831.2M598.8 408.4 L1108.2 835.8M595 412.9 L1104.3 840.3M591.2 417.4 L1100.5 844.8M587.4 422 L1096.7 849.4M583.6 426.5 L1092.9 853.9M579.8 431 L1089.1 858.4M576 435.6 L1085.3 863M572.2 440.1 L1081.5 867.5M568.3 444.6 L1077.7 872.1M564.5 449.2 L1073.9 876.6M560.7 453.7 L1070.1 881.1M556.9 458.2 L1066.3 885.7M553.1 462.8 L1062.5 890.2M549.3 467.3 L1058.7 894.7M545.5 471.9 L1054.9 899.3M541.7 476.4 L1051.1 903.8M537.9 480.9 L1047.3 908.3M534.1 485.5 L1043.5 912.9M530.3 490 L1039.7 917.4M526.5 494.5 L1035.9 921.9M522.7 499.1 L1032 926.5M518.9 503.6 L1028.2 931M1191.2 455.2 L763.8 964.5M1186.7 451.4 L759.3 960.7M1182.1 447.5 L754.7 956.9M1177.6 443.7 L750.2 953.1M1173.1 439.9 L745.7 949.3M1168.5 436.1 L741.1 945.5M1164 432.3 L736.6 941.7M1159.5 428.5 L732.1 937.9M1154.9 424.7 L727.5 934.1M1150.4 420.9 L723 930.3M1145.9 417.1 L718.5 926.5M1141.3 413.3 L713.9 922.7M1136.8 409.5 L709.4 918.9M1132.3 405.7 L704.8 915.1M1127.7 401.9 L700.3 911.2M1123.2 398.1 L695.8 907.4M1118.7 394.3 L691.2 903.6M1114.1 390.5 L686.7 899.8M1109.6 386.7 L682.2 896M1105 382.9 L677.6 892.2M1100.5 379.1 L673.1 888.4M1096 375.2 L668.6 884.6M1091.4 371.4 L664 880.8M1086.9 367.6 L659.5 877M1082.4 363.8 L655 873.2M1077.8 360 L650.4 869.4M1073.3 356.2 L645.9 865.6M1068.8 352.4 L641.4 861.8M1064.2 348.6 L636.8 858M1059.7 344.8 L632.3 854.2M1055.2 341 L627.8 850.4M1050.6 337.2 L623.2 846.6M1046.1 333.4 L618.7 842.8M1041.6 329.6 L614.1 838.9M1037 325.8 L609.6 835.1M1032.5 322 L605.1 831.3M1028 318.2 L600.5 827.5M1023.4 314.4 L596 823.7M1018.9 310.6 L591.5 819.9M1014.3 306.8 L586.9 816.1M1009.8 302.9 L582.4 812.3M1005.3 299.1 L577.9 808.5M1000.7 295.3 L573.3 804.7M996.2 291.5 L568.8 800.9M991.7 287.7 L564.3 797.1M987.1 283.9 L559.7 793.3M982.6 280.1 L555.2 789.5M978.1 276.3 L550.7 785.7M973.5 272.5 L546.1 781.9M969 268.7 L541.6 778.1M964.5 264.9 L537.1 774.3M959.9 261.1 L532.5 770.5" stroke="#a5d8ff" stroke-width="1.05" fill="none"/><path d="M693.7 295.3 L1204 721.5M689.6 300.1 L1199.1 727.4M685.8 304.7 L1195.4 731.7M682.8 308.3 L1192 735.8M678.9 312.9 L1187.4 741.4M675.6 316.8 L1183.6 745.9M671.9 321.2 L1181 749M667.7 326.2 L1175.9 755M663.5 331.3 L1173.1 758.4M659 336.6 L1169.5 762.6M655.9 340.3 L1165.2 767.8M651.6 345.4 L1161 772.8M648 349.7 L1157.9 776.5M644.8 353.6 L1154.4 780.6M640 359.2 L1149.7 786.2M636.4 363.5 L1146.8 789.7M633.1 367.4 L1141.9 795.5M629.1 372.3 L1139.3 798.7M625.5 376.5 L1134.1 804.9M622.1 380.6 L1131.5 807.9M618.2 385.3 L1126.8 813.5M613.4 391 L1124 816.9M610.8 394 L1120 821.6M606.7 398.9 L1115.7 826.8M603.2 403.1 L1112.3 830.9M599.3 407.7 L1107.3 836.8M594.6 413.4 L1105.1 839.5M590.3 418.4 L1101.3 844M587.6 421.7 L1095.9 850.4M583 427.1 L1092.5 854.4M579.9 430.9 L1089.7 857.8M575.7 435.9 L1086 862.1M572.7 439.5 L1081.7 867.3M569.2 443.6 L1077.9 871.8M564 449.8 L1073.6 877M560.7 453.7 L1069.9 881.4M557 458.2 L1066.9 884.9M552.9 463 L1062.7 890M548.9 467.8 L1058 895.6M545.6 471.7 L1054.7 899.4M541.3 476.9 L1051.2 903.6M538.4 480.3 L1046.9 908.8M533.4 486.3 L1043 913.5M529.9 490.4 L1039 918.2M526.2 494.9 L1035.6 922.2M522.8 499 L1032.4 926.1M518.6 503.9 L1029 930.1M1190.6 454.7 L763.3 964.1M1186.4 451.1 L759.8 961.2M1182.3 447.7 L754.8 957M1177.3 443.5 L750.4 953.3M1172.7 439.6 L744.7 948.5M1169.2 436.7 L740.8 945.2M1163.4 431.8 L736.8 941.9M1159.5 428.5 L731 937M1155.9 425.5 L727.4 934M1151.1 421.5 L722.4 929.8M1144.9 416.3 L718.4 926.4M1142.2 414 L713.8 922.5M1136.7 409.4 L708.9 918.5M1132.2 405.7 L704.5 914.8M1127 401.3 L700.3 911.2M1123.4 398.2 L694.8 906.6M1119.3 394.8 L690.8 903.3M1114.3 390.7 L686.1 899.4M1110.4 387.3 L681.1 895.2M1105.4 383.1 L678.6 893M1101 379.5 L673.3 888.6M1097 376.1 L668.7 884.8M1091.6 371.6 L663.6 880.5M1087.2 367.9 L660 877.4M1083 364.3 L654.4 872.8M1076.9 359.2 L650.4 869.3M1073.9 356.7 L645.2 865M1069 352.6 L642 862.3M1065 349.3 L636.2 857.5M1059 344.2 L632 853.9M1055.2 341.1 L627.6 850.3M1051.2 337.7 L622.2 845.7M1046.4 333.7 L618.4 842.5M1040.9 329 L613.5 838.4M1037.1 325.8 L610.1 835.5M1032.4 321.9 L605.9 832M1027.2 317.6 L600.9 827.8M1022.7 313.7 L596.5 824.1M1019.1 310.8 L592 820.4M1014.5 306.9 L587.6 816.7M1010.9 303.8 L581.9 811.9M1005.7 299.5 L578.4 809M1001.2 295.7 L573.4 804.7M996.4 291.7 L568.5 800.6M991.3 287.4 L564.6 797.3M986.2 283.1 L559 792.6M983.6 280.9 L554.5 788.9M977.2 275.6 L550 785.2M974.3 273.2 L545.4 781.3M968.7 268.5 L542.6 778.9M965.5 265.8 L536.1 773.4M959.6 260.8 L533.1 770.9" stroke="#a5d8ff" stroke-width="0.95" fill="none"/></g>
<path d="M724 563.6L998.2 564.3Q1020.5 564 1020.3 585.6L1021 639.4Q1020.5 661 998.1 661.5L724.6 661.3Q702.5 661 702.7 639.5L702.8 586.4Q702.5 564 724 563.6Z" stroke="#1971c2" stroke-width="1.75" fill="none"/>
<path d="M723.9 564.4L998.6 564.5Q1020.5 564 1020.4 586.8L1020.6 638.5Q1020.5 661 998 660.3L724.5 660.1Q702.5 661 702.4 638.3L702.5 586Q702.5 564 723.9 564.4Z" stroke="#1971c2" stroke-width="1" fill="none" opacity="0.75"/>
<g clip-path="url(#c6)"><path d="M714.2 492.9 L1222.8 919.7M710.4 497.4 L1219 924.2M706.6 501.9 L1215.2 928.7M702.7 506.5 L1211.4 933.3M698.9 511 L1207.6 937.8M695.1 515.5 L1203.8 942.3M691.3 520.1 L1200 946.9M687.5 524.6 L1196.2 951.4M683.7 529.1 L1192.4 955.9M679.9 533.7 L1188.5 960.5M676.1 538.2 L1184.7 965M672.3 542.7 L1180.9 969.5M668.5 547.3 L1177.1 974.1M664.7 551.8 L1173.3 978.6M660.9 556.3 L1169.5 983.1M657.1 560.9 L1165.7 987.7M653.3 565.4 L1161.9 992.2M649.5 570 L1158.1 996.7M645.7 574.5 L1154.3 1001.3M641.9 579 L1150.5 1005.8M638.1 583.6 L1146.7 1010.4M634.3 588.1 L1142.9 1014.9M630.4 592.6 L1139.1 1019.4M626.6 597.2 L1135.3 1024M622.8 601.7 L1131.5 1028.5M619 606.2 L1127.7 1033M615.2 610.8 L1123.9 1037.6M611.4 615.3 L1120.1 1042.1M607.6 619.8 L1116.2 1046.6M603.8 624.4 L1112.4 1051.2M600 628.9 L1108.6 1055.7M596.2 633.4 L1104.8 1060.2M592.4 638 L1101 1064.8M588.6 642.5 L1097.2 1069.3M584.8 647 L1093.4 1073.8M581 651.6 L1089.6 1078.4M577.2 656.1 L1085.8 1082.9M573.4 660.7 L1082 1087.4M569.6 665.2 L1078.2 1092M565.8 669.7 L1074.4 1096.5M562 674.3 L1070.6 1101.1M558.1 678.8 L1066.8 1105.6M554.3 683.3 L1063 1110.1M550.5 687.9 L1059.2 1114.7M546.7 692.4 L1055.4 1119.2M542.9 696.9 L1051.6 1123.7M539.1 701.5 L1047.8 1128.3M1206.5 652.8 L779.7 1161.4M1201.9 649 L775.1 1157.6M1197.4 645.1 L770.6 1153.8M1192.8 641.3 L766.1 1150M1188.3 637.5 L761.5 1146.2M1183.8 633.7 L757 1142.4M1179.2 629.9 L752.4 1138.6M1174.7 626.1 L747.9 1134.8M1170.2 622.3 L743.4 1130.9M1165.6 618.5 L738.8 1127.1M1161.1 614.7 L734.3 1123.3M1156.6 610.9 L729.8 1119.5M1152 607.1 L725.2 1115.7M1147.5 603.3 L720.7 1111.9M1143 599.5 L716.2 1108.1M1138.4 595.7 L711.6 1104.3M1133.9 591.9 L707.1 1100.5M1129.4 588.1 L702.6 1096.7M1124.8 584.3 L698 1092.9M1120.3 580.5 L693.5 1089.1M1115.8 576.7 L689 1085.3M1111.2 572.8 L684.4 1081.5M1106.7 569 L679.9 1077.7M1102.1 565.2 L675.4 1073.9M1097.6 561.4 L670.8 1070.1M1093.1 557.6 L666.3 1066.3M1088.5 553.8 L661.7 1062.5M1084 550 L657.2 1058.6M1079.5 546.2 L652.7 1054.8M1074.9 542.4 L648.1 1051M1070.4 538.6 L643.6 1047.2M1065.9 534.8 L639.1 1043.4M1061.3 531 L634.5 1039.6M1056.8 527.2 L630 1035.8M1052.3 523.4 L625.5 1032M1047.7 519.6 L620.9 1028.2M1043.2 515.8 L616.4 1024.4M1038.7 512 L611.9 1020.6M1034.1 508.2 L607.3 1016.8M1029.6 504.4 L602.8 1013M1025.1 500.5 L598.3 1009.2M1020.5 496.7 L593.7 1005.4M1016 492.9 L589.2 1001.6M1011.4 489.1 L584.7 997.8M1006.9 485.3 L580.1 994M1002.4 481.5 L575.6 990.2M997.8 477.7 L571 986.3M993.3 473.9 L566.5 982.5M988.8 470.1 L562 978.7M984.2 466.3 L557.4 974.9M979.7 462.5 L552.9 971.1" stroke="#a5d8ff" stroke-width="1.05" fill="none"/><path d="M713.4 493.8 L1223.1 919.3M709.5 498.4 L1219 924.2M706.6 501.9 L1214.5 929.6M703.6 505.5 L1211 933.7M698.7 511.3 L1207.9 937.4M694.5 516.3 L1204 942M691.4 520 L1199.9 946.9M687 525.2 L1196.7 950.8M683.8 529 L1192.5 955.8M679.8 533.8 L1188 961.2M676.5 537.8 L1184.2 965.7M672.5 542.5 L1180.9 969.5M668.9 546.8 L1177.1 974.1M663.8 552.8 L1173 978.9M660.4 557 L1169.8 982.8M657.4 560.5 L1166.1 987.2M653.1 565.6 L1161.7 992.5M649 570.6 L1158.9 995.8M645.3 575 L1153.6 1002.1M641.8 579.1 L1151.3 1004.9M638.4 583.1 L1147.6 1009.3M634.8 587.4 L1142.1 1015.8M630.3 592.9 L1138.8 1019.8M626.1 597.8 L1134.5 1024.8M622.6 601.9 L1131.3 1028.7M618.8 606.5 L1127.3 1033.4M615.1 611 L1123.5 1038M611.9 614.7 L1119.8 1042.5M607.7 619.7 L1115.8 1047.2M604.5 623.5 L1113 1050.5M600.8 627.9 L1108.1 1056.3M595.5 634.3 L1104.6 1060.6M592.6 637.7 L1100.4 1065.5M588.1 643.1 L1097.1 1069.4M585.2 646.5 L1093.8 1073.4M581.1 651.4 L1089.9 1078M577.3 656 L1085.6 1083.2M572.6 661.6 L1082.8 1086.5M569.4 665.3 L1079 1091M566.4 668.9 L1073.8 1097.2M561.8 674.4 L1069.8 1102M558.2 678.7 L1067.7 1104.5M554.5 683.1 L1062.8 1110.3M549.7 688.8 L1058.3 1115.7M546.8 692.3 L1055.5 1119M543.6 696.1 L1051.3 1124M539.6 700.9 L1048.4 1127.5M1207.5 653.6 L779.3 1161.1M1202.7 649.6 L774.1 1156.7M1198.3 645.9 L769.8 1153.1M1193.6 642 L767.1 1150.8M1187.8 637.1 L762.1 1146.6M1183.3 633.3 L757.7 1142.9M1180.2 630.7 L751.9 1138.1M1174.2 625.7 L747.1 1134.1M1169.7 621.9 L744.3 1131.7M1165.4 618.3 L738.4 1126.8M1161.2 614.8 L733.4 1122.6M1157.1 611.3 L728.8 1118.7M1151.6 606.7 L726.3 1116.6M1148.5 604.2 L720.4 1111.6M1142.3 598.9 L717.1 1108.9M1138.8 596 L711.1 1103.9M1134.6 592.5 L706.3 1099.9M1129.4 588.1 L703.5 1097.5M1125.1 584.5 L697.9 1092.8M1120.4 580.6 L693.1 1088.8M1116.5 577.3 L688.3 1084.7M1111.5 573.1 L684.1 1081.2M1106.4 568.8 L680.1 1077.8M1102.4 565.4 L674.7 1073.4M1096.7 560.6 L670.2 1069.6M1092.9 557.5 L666.7 1066.6M1089.5 554.6 L660.7 1061.6M1083.6 549.6 L656.5 1058.1M1079.8 546.5 L652.5 1054.7M1073.9 541.5 L647.4 1050.4M1070.2 538.4 L644 1047.6M1066 534.9 L638.2 1042.7M1061.6 531.2 L634.1 1039.3M1056.6 527 L629.2 1035.1M1051.6 522.8 L625.9 1032.4M1048.8 520.5 L621.4 1028.6M1043.4 515.9 L616.2 1024.2M1038 511.4 L611 1019.9M1035.1 509 L606.6 1016.2M1028.9 503.8 L602 1012.3M1024.9 500.4 L598.7 1009.6M1019.8 496.1 L593.1 1004.8M1015.6 492.6 L588.3 1000.8M1011.8 489.4 L585.5 998.5M1006.8 485.2 L579.5 993.4M1003 482.1 L575 989.7M996.9 476.9 L571.6 986.8M993.1 473.7 L566.1 982.2M988.8 470.2 L562.6 979.3M984.8 466.7 L556.9 974.5M979.1 462 L553 971.2" stroke="#a5d8ff" stroke-width="0.95" fill="none"/></g>
<path d="M742.5 763.9L1016.8 763.2Q1038.5 763.5 1038.6 786L1039 838.5Q1038.5 860.5 1016.5 860.6L742.6 860.1Q721 860.5 720.6 838.7L720.8 785.6Q721 763.5 742.5 763.9Z" stroke="#1971c2" stroke-width="1.75" fill="none"/>
<path d="M742.8 763.5L1015.8 762.6Q1038.5 763.5 1039.5 785.2L1037.7 838.8Q1038.5 860.5 1017.1 859.8L743.2 860.2Q721 860.5 721 837.5L720.1 786.5Q721 763.5 742.8 763.5Z" stroke="#1971c2" stroke-width="1" fill="none" opacity="0.75"/>
<g clip-path="url(#c7)"><path d="M708.6 699.3 L1216.8 1125.6M704.8 703.8 L1213 1130.2M701 708.3 L1209.2 1134.7M697.2 712.9 L1205.4 1139.2M693.4 717.4 L1201.5 1143.8M689.6 721.9 L1197.7 1148.3M685.8 726.5 L1193.9 1152.8M682 731 L1190.1 1157.4M678.2 735.5 L1186.3 1161.9M674.4 740.1 L1182.5 1166.4M670.6 744.6 L1178.7 1171M666.8 749.1 L1174.9 1175.5M663 753.7 L1171.1 1180M659.2 758.2 L1167.3 1184.6M655.4 762.7 L1163.5 1189.1M651.6 767.3 L1159.7 1193.6M647.8 771.8 L1155.9 1198.2M644 776.3 L1152.1 1202.7M640.1 780.9 L1148.3 1207.3M636.3 785.4 L1144.5 1211.8M632.5 790 L1140.7 1216.3M628.7 794.5 L1136.9 1220.9M624.9 799 L1133.1 1225.4M621.1 803.6 L1129.2 1229.9M617.3 808.1 L1125.4 1234.5M613.5 812.6 L1121.6 1239M609.7 817.2 L1117.8 1243.5M605.9 821.7 L1114 1248.1M602.1 826.2 L1110.2 1252.6M598.3 830.8 L1106.4 1257.1M594.5 835.3 L1102.6 1261.7M590.7 839.8 L1098.8 1266.2M586.9 844.4 L1095 1270.7M583.1 848.9 L1091.2 1275.3M579.3 853.4 L1087.4 1279.8M575.5 858 L1083.6 1284.3M571.7 862.5 L1079.8 1288.9M567.8 867 L1076 1293.4M564 871.6 L1072.2 1298M560.2 876.1 L1068.4 1302.5M556.4 880.7 L1064.6 1307M552.6 885.2 L1060.8 1311.6M548.8 889.7 L1056.9 1316.1M545 894.3 L1053.1 1320.6M541.2 898.8 L1049.3 1325.2M537.4 903.3 L1045.5 1329.7M533.6 907.9 L1041.7 1334.2M529.8 912.4 L1037.9 1338.8M1200.1 859.9 L773.7 1368M1195.6 856 L769.2 1364.2M1191 852.2 L764.7 1360.4M1186.5 848.4 L760.1 1356.6M1182 844.6 L755.6 1352.8M1177.4 840.8 L751.1 1349M1172.9 837 L746.5 1345.1M1168.4 833.2 L742 1341.3M1163.8 829.4 L737.5 1337.5M1159.3 825.6 L732.9 1333.7M1154.7 821.8 L728.4 1329.9M1150.2 818 L723.8 1326.1M1145.7 814.2 L719.3 1322.3M1141.1 810.4 L714.8 1318.5M1136.6 806.6 L710.2 1314.7M1132.1 802.8 L705.7 1310.9M1127.5 799 L701.2 1307.1M1123 795.2 L696.6 1303.3M1118.5 791.4 L692.1 1299.5M1113.9 787.6 L687.6 1295.7M1109.4 783.7 L683 1291.9M1104.9 779.9 L678.5 1288.1M1100.3 776.1 L674 1284.3M1095.8 772.3 L669.4 1280.5M1091.3 768.5 L664.9 1276.7M1086.7 764.7 L660.4 1272.8M1082.2 760.9 L655.8 1269M1077.7 757.1 L651.3 1265.2M1073.1 753.3 L646.8 1261.4M1068.6 749.5 L642.2 1257.6M1064 745.7 L637.7 1253.8M1059.5 741.9 L633.1 1250M1055 738.1 L628.6 1246.2M1050.4 734.3 L624.1 1242.4M1045.9 730.5 L619.5 1238.6M1041.4 726.7 L615 1234.8M1036.8 722.9 L610.5 1231M1032.3 719.1 L605.9 1227.2M1027.8 715.3 L601.4 1223.4M1023.2 711.4 L596.9 1219.6M1018.7 707.6 L592.3 1215.8M1014.2 703.8 L587.8 1212M1009.6 700 L583.3 1208.2M1005.1 696.2 L578.7 1204.4M1000.6 692.4 L574.2 1200.5M996 688.6 L569.7 1196.7M991.5 684.8 L565.1 1192.9M987 681 L560.6 1189.1M982.4 677.2 L556.1 1185.3M977.9 673.4 L551.5 1181.5M973.4 669.6 L547 1177.7" stroke="#a5d8ff" stroke-width="1.05" fill="none"/><path d="M708 700 L1216.8 1125.5M704 704.7 L1212.2 1131M701.8 707.4 L1209 1134.9M697.4 712.6 L1206 1138.4M692.6 718.4 L1202 1143.2M689.5 722.1 L1197.5 1148.6M685 727.4 L1193.6 1153.2M682.2 730.8 L1190.2 1157.3M678.8 734.8 L1185.5 1162.9M673.5 741.1 L1183 1165.8M671.4 743.6 L1179.2 1170.4M667.1 748.8 L1174.2 1176.4M662.3 754.5 L1170.5 1180.8M660 757.2 L1166.8 1185.2M655 763.2 L1163.2 1189.4M650.7 768.3 L1160.5 1192.7M648.4 771.1 L1155.4 1198.7M643.2 777.3 L1151.8 1203.1M640.5 780.5 L1148.1 1207.4M635.9 786 L1145.2 1210.9M632.9 789.6 L1141.1 1215.8M629.4 793.7 L1136.9 1220.8M625.5 798.3 L1133.5 1224.8M621.8 802.8 L1128.9 1230.3M618.2 807 L1125.1 1234.9M614.1 812 L1122.5 1238M608.9 818.1 L1118.3 1242.9M605.1 822.6 L1113.4 1248.9M601.4 827.1 L1110.9 1251.8M598.4 830.7 L1107.1 1256.3M593.7 836.2 L1102 1262.4M590.4 840.1 L1098.9 1266.1M587.2 844 L1094.4 1271.4M583.1 848.9 L1091 1275.6M579.9 852.7 L1087.9 1279.2M576.3 857 L1083.2 1284.8M571.6 862.6 L1080.4 1288.1M567.2 867.8 L1076.4 1292.9M564.2 871.4 L1072.8 1297.2M560.6 875.6 L1067.8 1303.2M556.7 880.3 L1065.2 1306.3M552.6 885.2 L1061.1 1311.2M548.1 890.6 L1057.6 1315.3M544.2 895.3 L1053.9 1319.7M540.5 899.6 L1049 1325.5M537.9 902.7 L1045.6 1329.6M534 907.4 L1042.2 1333.7M530.3 911.8 L1038.2 1338.5M1199 859 L772.8 1367.2M1196.4 856.8 L769.6 1364.6M1190.2 851.5 L765.6 1361.2M1186 848 L760.6 1356.9M1180.9 843.8 L756.6 1353.6M1176.8 840.3 L751.4 1349.2M1173.7 837.7 L747.6 1346M1167.6 832.6 L741.9 1341.3M1164.5 830 L737.6 1337.7M1158.4 824.9 L733.5 1334.2M1154.6 821.7 L729.2 1330.6M1150.9 818.6 L723.3 1325.6M1145.2 813.8 L720 1322.9M1142 811.1 L715.7 1319.3M1136.4 806.4 L710.3 1314.7M1132.6 803.2 L706.3 1311.4M1127.3 798.8 L700.7 1306.7M1122.3 794.6 L696.5 1303.1M1119.1 791.9 L693 1300.3M1113.4 787.1 L687.8 1295.8M1108.9 783.3 L684 1292.7M1104.2 779.4 L678.9 1288.4M1099.6 775.5 L673.2 1283.6M1095.8 772.3 L670.5 1281.3M1090.4 767.8 L664.9 1276.7M1085.9 764.1 L660.9 1273.3M1082.9 761.5 L655.1 1268.4M1077.9 757.4 L652 1265.8M1073.4 753.5 L646.5 1261.3M1069.6 750.4 L642.2 1257.6M1064.2 745.8 L637.6 1253.8M1060.3 742.6 L632.7 1249.6M1054.3 737.5 L627.8 1245.6M1050.8 734.6 L623.6 1242M1046.2 730.7 L619 1238.1M1042.3 727.5 L614.2 1234.1M1035.9 722 L610.5 1231M1032.3 719 L605.9 1227.1M1027.7 715.2 L602.4 1224.2M1022.2 710.6 L597.5 1220.1M1019.4 708.2 L593.2 1216.5M1014.7 704.3 L587.1 1211.4M1010.6 700.9 L584.1 1208.9M1004.7 695.9 L579.4 1204.9M1001.6 693.3 L574 1200.4M995.9 688.5 L569.6 1196.7M991.1 684.4 L566 1193.7M986.2 680.3 L560.1 1188.7M983.4 678 L556.9 1186M977.9 673.4 L551.5 1181.5M973.8 670 L547.8 1178.4" stroke="#a5d8ff" stroke-width="0.95" fill="none"/></g>
<path d="M736.9 969.6L1010.1 970.4Q1032 970 1031.6 992.1L1032.3 1045.1Q1032 1067.5 1010.4 1068L736.9 1067.4Q715 1067.5 715.4 1045.5L714.9 992.5Q715 970 736.9 969.6Z" stroke="#1971c2" stroke-width="1.75" fill="none"/>
<path d="M737.6 969.7L1009.5 969.7Q1032 970 1031.9 993L1032.6 1046.3Q1032 1067.5 1010.6 1068.2L736.1 1067.5Q715 1067.5 715.9 1046.4L714.5 991.8Q715 970 737.6 969.7Z" stroke="#1971c2" stroke-width="1" fill="none" opacity="0.75"/>
<g clip-path="url(#c8)"><path d="M1295.1 -137.6 L1803.7 289.2M1291.3 -133 L1799.9 293.7M1287.5 -128.5 L1796.1 298.3M1283.7 -123.9 L1792.3 302.8M1279.9 -119.4 L1788.5 307.3M1276.1 -114.9 L1784.6 311.9M1272.3 -110.3 L1780.8 316.4M1268.5 -105.8 L1777 320.9M1264.7 -101.3 L1773.2 325.5M1260.8 -96.7 L1769.4 330M1257 -92.2 L1765.6 334.5M1253.2 -87.7 L1761.8 339.1M1249.4 -83.1 L1758 343.6M1245.6 -78.6 L1754.2 348.1M1241.8 -74.1 L1750.4 352.7M1238 -69.5 L1746.6 357.2M1234.2 -65 L1742.8 361.8M1230.4 -60.5 L1739 366.3M1226.6 -55.9 L1735.2 370.8M1222.8 -51.4 L1731.4 375.4M1219 -46.9 L1727.6 379.9M1215.2 -42.3 L1723.8 384.4M1211.4 -37.8 L1720 389M1207.6 -33.2 L1716.2 393.5M1203.8 -28.7 L1712.3 398M1200 -24.2 L1708.5 402.6M1196.2 -19.6 L1704.7 407.1M1192.4 -15.1 L1700.9 411.6M1188.5 -10.6 L1697.1 416.2M1184.7 -6 L1693.3 420.7M1180.9 -1.5 L1689.5 425.2M1177.1 3 L1685.7 429.8M1173.3 7.6 L1681.9 434.3M1169.5 12.1 L1678.1 438.8M1165.7 16.6 L1674.3 443.4M1161.9 21.2 L1670.5 447.9M1158.1 25.7 L1666.7 452.5M1154.3 30.2 L1662.9 457M1150.5 34.8 L1659.1 461.5M1146.7 39.3 L1655.3 466.1M1142.9 43.8 L1651.5 470.6M1139.1 48.4 L1647.7 475.1M1135.3 52.9 L1643.9 479.7M1131.5 57.5 L1640 484.2M1127.7 62 L1636.2 488.7M1123.9 66.5 L1632.4 493.3M1120.1 71.1 L1628.6 497.8M1116.2 75.6 L1624.8 502.3M1789.7 24.7 L1363 533.2M1785.2 20.9 L1358.4 529.4M1780.6 17 L1353.9 525.6M1776.1 13.2 L1349.4 521.8M1771.6 9.4 L1344.8 518M1767 5.6 L1340.3 514.2M1762.5 1.8 L1335.7 510.4M1758 -2 L1331.2 506.6M1753.4 -5.8 L1326.7 502.8M1748.9 -9.6 L1322.1 499M1744.4 -13.4 L1317.6 495.2M1739.8 -17.2 L1313.1 491.4M1735.3 -21 L1308.5 487.6M1730.8 -24.8 L1304 483.8M1726.2 -28.6 L1299.5 480M1721.7 -32.4 L1294.9 476.2M1717.1 -36.2 L1290.4 472.3M1712.6 -40 L1285.9 468.5M1708.1 -43.8 L1281.3 464.7M1703.5 -47.6 L1276.8 460.9M1699 -51.4 L1272.3 457.1M1694.5 -55.3 L1267.7 453.3M1689.9 -59.1 L1263.2 449.5M1685.4 -62.9 L1258.7 445.7M1680.9 -66.7 L1254.1 441.9M1676.3 -70.5 L1249.6 438.1M1671.8 -74.3 L1245 434.3M1667.3 -78.1 L1240.5 430.5M1662.7 -81.9 L1236 426.7M1658.2 -85.7 L1231.4 422.9M1653.7 -89.5 L1226.9 419.1M1649.1 -93.3 L1222.4 415.3M1644.6 -97.1 L1217.8 411.5M1640.1 -100.9 L1213.3 407.7M1635.5 -104.7 L1208.8 403.9M1631 -108.5 L1204.2 400M1626.4 -112.3 L1199.7 396.2M1621.9 -116.1 L1195.2 392.4M1617.4 -119.9 L1190.6 388.6M1612.8 -123.8 L1186.1 384.8M1608.3 -127.6 L1181.6 381M1603.8 -131.4 L1177 377.2M1599.2 -135.2 L1172.5 373.4M1594.7 -139 L1168 369.6M1590.2 -142.8 L1163.4 365.8M1585.6 -146.6 L1158.9 362M1581.1 -150.4 L1154.3 358.2M1576.6 -154.2 L1149.8 354.4M1572 -158 L1145.3 350.6M1567.5 -161.8 L1140.7 346.8M1563 -165.6 L1136.2 343M1558.4 -169.4 L1131.7 339.2" stroke="#a5d8ff" stroke-width="1.05" fill="none"/><path d="M1295.5 -138.1 L1803.4 289.6M1291.7 -133.5 L1799.8 293.8M1286.7 -127.6 L1795.8 298.5M1284.1 -124.5 L1792.2 302.8M1280 -119.6 L1787.6 308.3M1276.5 -115.3 L1785 311.5M1272 -110 L1781.5 315.6M1268.3 -105.6 L1776.2 321.9M1264.6 -101.2 L1773.6 325M1260.9 -96.8 L1769.4 330.1M1257.7 -93 L1766.3 333.7M1253.9 -88.5 L1762.2 338.6M1249.6 -83.3 L1758.4 343.2M1246.1 -79.1 L1754.9 347.3M1241.7 -74 L1749.8 353.4M1237.8 -69.3 L1746.5 357.4M1233.9 -64.7 L1743.3 361.1M1230 -60 L1739.1 366.2M1226.5 -55.8 L1735 371.1M1222.9 -51.5 L1731.7 375M1219.5 -47.4 L1728.1 379.3M1215.2 -42.3 L1724 384.2M1211.2 -37.6 L1720.8 387.9M1207.8 -33.6 L1715.5 394.3M1204.2 -29.3 L1712.2 398.2M1200 -24.2 L1708.9 402.1M1195.3 -18.6 L1705.1 406.7M1191.9 -14.5 L1701.5 410.9M1189.3 -11.5 L1696.5 417M1184.9 -6.2 L1694.1 419.8M1181.1 -1.7 L1689.6 425.1M1176.7 3.5 L1686.4 428.9M1173.8 7 L1681.1 435.3M1169.1 12.6 L1678.7 438.1M1166 16.3 L1674.6 443.1M1161.6 21.5 L1670.3 448.2M1157.5 26.5 L1666.1 453.1M1154.3 30.3 L1662.4 457.5M1150.1 35.3 L1658.6 462.1M1146.7 39.3 L1654.8 466.7M1142.5 44.3 L1650.7 471.5M1139.8 47.6 L1647 475.9M1136.2 51.9 L1643.4 480.2M1131.3 57.6 L1640.1 484.2M1126.8 63 L1636.1 488.9M1124 66.3 L1631.9 493.9M1119.4 71.9 L1628.4 498M1116.5 75.3 L1624.9 502.2M1789.2 24.3 L1363.4 533.6M1785.4 21 L1358.3 529.3M1780.9 17.3 L1354.3 525.9M1775.5 12.7 L1348.6 521.2M1771.6 9.4 L1344.9 518.1M1767.7 6.2 L1340.7 514.6M1763.3 2.5 L1335.6 510.3M1757.8 -2.1 L1332.1 507.3M1752.5 -6.5 L1327.1 503.1M1748.2 -10.2 L1321.4 498.4M1743.4 -14.2 L1318.2 495.7M1740 -17.1 L1312.2 490.6M1736.3 -20.1 L1309.5 488.4M1730.6 -24.9 L1304 483.8M1725.3 -29.4 L1298.9 479.5M1721.6 -32.5 L1293.9 475.3M1717.1 -36.3 L1290.4 472.3M1712.2 -40.4 L1286.1 468.7M1708.4 -43.6 L1281.1 464.6M1703.9 -47.4 L1275.8 460.1M1698.6 -51.8 L1272.2 457.1M1695.3 -54.5 L1268 453.5M1690.1 -58.9 L1263.1 449.4M1685.2 -63 L1257.8 445M1679.9 -67.5 L1254.1 441.9M1676.5 -70.4 L1249.3 437.9M1670.7 -75.2 L1245.4 434.6M1667.2 -78.1 L1239.8 429.9M1663.4 -81.3 L1236.4 427M1657.2 -86.6 L1230.7 422.3M1653.6 -89.5 L1227.7 419.8M1648.3 -94 L1222 414.9M1643.9 -97.7 L1216.8 410.6M1639.2 -101.6 L1213.5 407.8M1636.3 -104.1 L1209.2 404.2M1631 -108.6 L1204.2 400M1627.1 -111.8 L1200.4 396.8M1621.6 -116.4 L1194.9 392.3M1617.7 -119.7 L1189.6 387.7M1612.5 -124 L1187.1 385.7M1608.5 -127.4 L1180.9 380.5M1604.2 -131 L1176.6 376.9M1600.3 -134.3 L1172.9 373.8M1594 -139.6 L1167.8 369.5M1589.8 -143.1 L1164.1 366.3M1585.6 -146.6 L1158.8 361.9M1581.6 -150 L1154 357.9M1576.5 -154.2 L1148.7 353.5M1571.9 -158.1 L1145.5 350.7M1568.3 -161.1 L1141.5 347.4M1562.4 -166.1 L1137.1 343.7M1559.3 -168.7 L1132.4 339.8" stroke="#a5d8ff" stroke-width="0.95" fill="none"/></g>
<path d="M1324 132.9L1597.1 132.9Q1619 132.5 1618.5 153.9L1619.3 208.8Q1619 231 1597.3 230.8L1323.6 230.7Q1302 231 1301.5 209.5L1302.1 154.3Q1302 132.5 1324 132.9Z" stroke="#1971c2" stroke-width="1.75" fill="none"/>
<path d="M1323.9 132.3L1596.1 133.3Q1619 132.5 1619.2 155.4L1618.9 209.2Q1619 231 1596.5 230.1L1324.9 231.7Q1302 231 1301.6 209.8L1302.6 154.1Q1302 132.5 1323.9 132.3Z" stroke="#1971c2" stroke-width="1" fill="none" opacity="0.75"/>
<g clip-path="url(#c9)"><path d="M1303.8 112.9 L1812.4 539.7M1300 117.5 L1808.6 544.2M1296.2 122 L1804.8 548.8M1292.4 126.5 L1801 553.3M1288.6 131.1 L1797.2 557.8M1284.8 135.6 L1793.4 562.4M1281 140.2 L1789.6 566.9M1277.2 144.7 L1785.8 571.4M1273.4 149.2 L1782 576M1269.6 153.8 L1778.2 580.5M1265.8 158.3 L1774.4 585M1262 162.8 L1770.6 589.6M1258.2 167.4 L1766.8 594.1M1254.4 171.9 L1763 598.6M1250.6 176.4 L1759.1 603.2M1246.8 181 L1755.3 607.7M1243 185.5 L1751.5 612.2M1239.2 190 L1747.7 616.8M1235.3 194.6 L1743.9 621.3M1231.5 199.1 L1740.1 625.9M1227.7 203.6 L1736.3 630.4M1223.9 208.2 L1732.5 634.9M1220.1 212.7 L1728.7 639.5M1216.3 217.2 L1724.9 644M1212.5 221.8 L1721.1 648.5M1208.7 226.3 L1717.3 653.1M1204.9 230.9 L1713.5 657.6M1201.1 235.4 L1709.7 662.1M1197.3 239.9 L1705.9 666.7M1193.5 244.5 L1702.1 671.2M1189.7 249 L1698.3 675.7M1185.9 253.5 L1694.5 680.3M1182.1 258.1 L1690.6 684.8M1178.3 262.6 L1686.8 689.3M1174.5 267.1 L1683 693.9M1170.7 271.7 L1679.2 698.4M1166.9 276.2 L1675.4 702.9M1163 280.7 L1671.6 707.5M1159.2 285.3 L1667.8 712M1155.4 289.8 L1664 716.6M1151.6 294.3 L1660.2 721.1M1147.8 298.9 L1656.4 725.6M1144 303.4 L1652.6 730.2M1140.2 307.9 L1648.8 734.7M1136.4 312.5 L1645 739.2M1132.6 317 L1641.2 743.8M1128.8 321.6 L1637.4 748.3M1798.6 272.7 L1371.8 781.3M1794 268.9 L1367.3 777.5M1789.5 265.1 L1362.7 773.7M1784.9 261.3 L1358.2 769.8M1780.4 257.5 L1353.7 766M1775.9 253.7 L1349.1 762.2M1771.3 249.9 L1344.6 758.4M1766.8 246.1 L1340.1 754.6M1762.3 242.2 L1335.5 750.8M1757.7 238.4 L1331 747M1753.2 234.6 L1326.5 743.2M1748.7 230.8 L1321.9 739.4M1744.1 227 L1317.4 735.6M1739.6 223.2 L1312.8 731.8M1735.1 219.4 L1308.3 728M1730.5 215.6 L1303.8 724.2M1726 211.8 L1299.2 720.4M1721.5 208 L1294.7 716.6M1716.9 204.2 L1290.2 712.8M1712.4 200.4 L1285.6 709M1707.9 196.6 L1281.1 705.2M1703.3 192.8 L1276.6 701.4M1698.8 189 L1272 697.5M1694.2 185.2 L1267.5 693.7M1689.7 181.4 L1263 689.9M1685.2 177.6 L1258.4 686.1M1680.6 173.7 L1253.9 682.3M1676.1 169.9 L1249.4 678.5M1671.6 166.1 L1244.8 674.7M1667 162.3 L1240.3 670.9M1662.5 158.5 L1235.8 667.1M1658 154.7 L1231.2 663.3M1653.4 150.9 L1226.7 659.5M1648.9 147.1 L1222.1 655.7M1644.4 143.3 L1217.6 651.9M1639.8 139.5 L1213.1 648.1M1635.3 135.7 L1208.5 644.3M1630.8 131.9 L1204 640.5M1626.2 128.1 L1199.5 636.7M1621.7 124.3 L1194.9 632.9M1617.2 120.5 L1190.4 629.1M1612.6 116.7 L1185.9 625.2M1608.1 112.9 L1181.3 621.4M1603.5 109.1 L1176.8 617.6M1599 105.3 L1172.3 613.8M1594.5 101.4 L1167.7 610M1589.9 97.6 L1163.2 606.2M1585.4 93.8 L1158.7 602.4M1580.9 90 L1154.1 598.6M1576.3 86.2 L1149.6 594.8M1571.8 82.4 L1145.1 591M1567.3 78.6 L1140.5 587.2" stroke="#a5d8ff" stroke-width="1.05" fill="none"/><path d="M1304.2 112.5 L1812.3 539.8M1300.7 116.7 L1808.6 544.3M1296.4 121.8 L1805 548.6M1293.2 125.6 L1801.7 552.5M1288 131.8 L1797.5 557.5M1285.3 135.1 L1793.9 561.7M1281.4 139.7 L1790.1 566.3M1278 143.7 L1785.5 571.8M1273.7 148.9 L1782.6 575.2M1269.2 154.2 L1778.9 579.6M1266.2 157.8 L1773.8 585.8M1262.7 162 L1770.7 589.5M1257.6 168.1 L1766.2 594.8M1255 171.2 L1763.2 598.3M1250.2 176.9 L1759.4 602.9M1245.9 182 L1755.9 607.1M1242.1 186.5 L1751.5 612.3M1239.6 189.5 L1747.8 616.7M1236 193.8 L1743.6 621.8M1232 198.6 L1739.4 626.7M1227.6 203.8 L1736.6 630.1M1224.4 207.6 L1732.3 635.2M1220.6 212.1 L1728 640.3M1217 216.4 L1724.9 644M1212.4 221.9 L1721.5 648M1208.2 226.9 L1717.5 652.8M1204.6 231.2 L1713.4 657.7M1201.4 235 L1709.9 661.9M1198 239 L1706.5 666M1192.9 245.2 L1702.4 670.8M1189.4 249.3 L1699 674.9M1185.8 253.7 L1694.7 680M1182.1 258.1 L1691 684.4M1179 261.7 L1687.2 688.9M1175 266.5 L1683.7 693.1M1170.3 272.1 L1679.6 697.9M1167 276 L1674.7 703.8M1162.6 281.3 L1670.9 708.3M1158.6 286 L1668.5 711.2M1155.8 289.3 L1664.9 715.5M1151.3 294.7 L1659.9 721.4M1148.1 298.6 L1656.6 725.4M1143.7 303.8 L1652.2 730.6M1140.7 307.4 L1648.2 735.4M1136.7 312.2 L1644.8 739.5M1133.2 316.3 L1641.9 742.9M1128.1 322.4 L1637 748.8M1799.5 273.5 L1372.8 782.1M1794.7 269.5 L1367.9 778M1789.9 265.4 L1363 773.9M1785.9 262.1 L1358.6 770.2M1780.1 257.2 L1354.4 766.6M1775.1 253 L1349 762.1M1770.9 249.5 L1345.1 758.9M1766.9 246.2 L1339.7 754.3M1762.6 242.5 L1336.6 751.7M1757 237.8 L1330.4 746.5M1753.7 235 L1327.4 744M1747.9 230.2 L1321.7 739.2M1745.1 227.8 L1317.9 736.1M1740.4 223.9 L1312.2 731.3M1735.7 219.9 L1307.4 727.2M1730 215.2 L1304.7 724.9M1725.6 211.5 L1299.5 720.6M1720.9 207.6 L1294 716M1717.4 204.6 L1291.1 713.5M1711.4 199.6 L1285.8 709.1M1706.9 195.8 L1280.7 704.8M1702.8 192.3 L1275.9 700.8M1698.5 188.7 L1272.1 697.6M1695.2 186 L1267.1 693.4M1689.9 181.5 L1262.9 689.9M1684.3 176.8 L1259.2 686.8M1680.1 173.3 L1254.9 683.1M1675.7 169.6 L1248.7 678M1672.1 166.6 L1244.7 674.6M1666 161.5 L1240 670.7M1662.4 158.4 L1236.3 667.6M1658.9 155.5 L1231.5 663.6M1653.6 151.1 L1227.3 660M1649.3 147.5 L1222.9 656.3M1643.9 142.9 L1217.2 651.6M1640.4 140 L1213.6 648.5M1635.3 135.7 L1208.7 644.4M1629.8 131.1 L1204.3 640.7M1626.7 128.4 L1198.6 636M1622.5 124.9 L1194.8 632.7M1617.5 120.8 L1189.7 628.5M1612.5 116.6 L1185.3 624.8M1608.8 113.5 L1181 621.1M1603.3 108.9 L1176.9 617.7M1598.4 104.8 L1171.6 613.2M1595.3 102.1 L1168.2 610.4M1590.2 97.9 L1163.8 606.7M1586.4 94.6 L1159.1 602.8M1581.5 90.6 L1153.7 598.2M1576.4 86.3 L1150.4 595.5M1572.2 82.7 L1145.1 591.1M1567.6 78.9 L1141.2 587.8" stroke="#a5d8ff" stroke-width="0.95" fill="none"/></g>
<path d="M1333.5 380.9L1607.6 381.8Q1629 381.5 1628.5 403.8L1629.6 458.1Q1629 480 1606.5 480L1333.9 479.6Q1312 480 1312.1 457.4L1312.5 403.7Q1312 381.5 1333.5 380.9Z" stroke="#1971c2" stroke-width="1.75" fill="none"/>
<path d="M1334.3 382.4L1607.3 381Q1629 381.5 1628.5 402.8L1628.1 458.5Q1629 480 1607.7 479.6L1333.4 480.3Q1312 480 1312.7 458.9L1311.3 404.1Q1312 381.5 1334.3 382.4Z" stroke="#1971c2" stroke-width="1" fill="none" opacity="0.75"/>
<g clip-path="url(#c10)"><path d="M1304.7 427.4 L1812.6 853.6M1300.9 432 L1808.8 858.1M1297.1 436.5 L1804.9 862.7M1293.3 441.1 L1801.1 867.2M1289.5 445.6 L1797.3 871.7M1285.7 450.1 L1793.5 876.3M1281.9 454.7 L1789.7 880.8M1278.1 459.2 L1785.9 885.3M1274.3 463.7 L1782.1 889.9M1270.5 468.3 L1778.3 894.4M1266.7 472.8 L1774.5 898.9M1262.9 477.3 L1770.7 903.5M1259 481.9 L1766.9 908M1255.2 486.4 L1763.1 912.5M1251.4 490.9 L1759.3 917.1M1247.6 495.5 L1755.5 921.6M1243.8 500 L1751.7 926.1M1240 504.5 L1747.9 930.7M1236.2 509.1 L1744.1 935.2M1232.4 513.6 L1740.3 939.7M1228.6 518.1 L1736.4 944.3M1224.8 522.7 L1732.6 948.8M1221 527.2 L1728.8 953.4M1217.2 531.8 L1725 957.9M1213.4 536.3 L1721.2 962.4M1209.6 540.8 L1717.4 967M1205.8 545.4 L1713.6 971.5M1202 549.9 L1709.8 976M1198.2 554.4 L1706 980.6M1194.4 559 L1702.2 985.1M1190.6 563.5 L1698.4 989.6M1186.7 568 L1694.6 994.2M1182.9 572.6 L1690.8 998.7M1179.1 577.1 L1687 1003.2M1175.3 581.6 L1683.2 1007.8M1171.5 586.2 L1679.4 1012.3M1167.7 590.7 L1675.6 1016.8M1163.9 595.2 L1671.8 1021.4M1160.1 599.8 L1668 1025.9M1156.3 604.3 L1664.1 1030.4M1152.5 608.8 L1660.3 1035M1148.7 613.4 L1656.5 1039.5M1144.9 617.9 L1652.7 1044.1M1141.1 622.5 L1648.9 1048.6M1137.3 627 L1645.1 1053.1M1133.5 631.5 L1641.3 1057.7M1129.7 636.1 L1637.5 1062.2M1801.2 589.8 L1375.1 1097.7M1796.7 586 L1370.5 1093.9M1792.1 582.2 L1366 1090.1M1787.6 578.4 L1361.5 1086.3M1783.1 574.6 L1356.9 1082.5M1778.5 570.8 L1352.4 1078.6M1774 567 L1347.9 1074.8M1769.5 563.2 L1343.3 1071M1764.9 559.4 L1338.8 1067.2M1760.4 555.6 L1334.3 1063.4M1755.9 551.8 L1329.7 1059.6M1751.3 548 L1325.2 1055.8M1746.8 544.2 L1320.7 1052M1742.3 540.4 L1316.1 1048.2M1737.7 536.6 L1311.6 1044.4M1733.2 532.7 L1307 1040.6M1728.6 528.9 L1302.5 1036.8M1724.1 525.1 L1298 1033M1719.6 521.3 L1293.4 1029.2M1715 517.5 L1288.9 1025.4M1710.5 513.7 L1284.4 1021.6M1706 509.9 L1279.8 1017.8M1701.4 506.1 L1275.3 1014M1696.9 502.3 L1270.8 1010.2M1692.4 498.5 L1266.2 1006.3M1687.8 494.7 L1261.7 1002.5M1683.3 490.9 L1257.2 998.7M1678.8 487.1 L1252.6 994.9M1674.2 483.3 L1248.1 991.1M1669.7 479.5 L1243.6 987.3M1665.2 475.7 L1239 983.5M1660.6 471.9 L1234.5 979.7M1656.1 468.1 L1230 975.9M1651.6 464.3 L1225.4 972.1M1647 460.4 L1220.9 968.3M1642.5 456.6 L1216.3 964.5M1637.9 452.8 L1211.8 960.7M1633.4 449 L1207.3 956.9M1628.9 445.2 L1202.7 953.1M1624.3 441.4 L1198.2 949.3M1619.8 437.6 L1193.7 945.5M1615.3 433.8 L1189.1 941.7M1610.7 430 L1184.6 937.9M1606.2 426.2 L1180.1 934M1601.7 422.4 L1175.5 930.2M1597.1 418.6 L1171 926.4M1592.6 414.8 L1166.5 922.6M1588.1 411 L1161.9 918.8M1583.5 407.2 L1157.4 915M1579 403.4 L1152.9 911.2M1574.5 399.6 L1148.3 907.4M1569.9 395.8 L1143.8 903.6" stroke="#a5d8ff" stroke-width="1.05" fill="none"/><path d="M1303.9 428.4 L1812.6 853.6M1300.9 432 L1809.4 857.4M1297.5 436.1 L1804.8 862.8M1294 440.2 L1800.8 867.6M1290.1 444.9 L1797.4 871.6M1284.8 451.1 L1794.3 875.4M1282.7 453.7 L1789.8 880.7M1278.6 458.5 L1785.5 885.8M1275.2 462.7 L1781.5 890.6M1269.8 469 L1777.8 895M1266.8 472.6 L1774.9 898.5M1262.6 477.7 L1770.7 903.5M1259.2 481.7 L1767.2 907.7M1255.4 486.3 L1762.8 912.9M1250.8 491.6 L1758.6 917.9M1248.2 494.8 L1755.8 921.2M1243.9 499.9 L1751.6 926.3M1240.3 504.2 L1748.4 930M1237 508.2 L1744.4 934.8M1232.5 513.5 L1739.4 940.8M1227.9 519 L1735.8 945.1M1223.9 523.7 L1731.8 949.8M1220.8 527.5 L1728.3 954M1218 530.8 L1724.7 958.3M1213.2 536.5 L1721.6 962M1209.4 541 L1716.6 967.9M1205.8 545.3 L1713.4 971.8M1202.3 549.5 L1710.1 975.7M1197.5 555.3 L1706.9 979.5M1194.9 558.3 L1701.9 985.5M1190.6 563.4 L1699.1 988.7M1186.5 568.4 L1694.8 993.9M1182.8 572.7 L1690.9 998.5M1179.1 577.2 L1686.9 1003.4M1175.5 581.4 L1683.9 1006.9M1172.1 585.5 L1678.7 1013.1M1167.6 590.8 L1676.3 1016M1163.3 596 L1672.2 1020.8M1160.8 598.9 L1667.9 1026M1156.7 603.8 L1664.2 1030.4M1152.4 609 L1660.8 1034.4M1148.6 613.5 L1657.2 1038.7M1144.9 617.9 L1652.6 1044.2M1141.8 621.6 L1649.1 1048.4M1138 626.1 L1645.2 1053M1132.8 632.3 L1641.2 1057.8M1129.3 636.5 L1637 1062.7M1800.2 588.9 L1374.6 1097.3M1797.5 586.7 L1369.8 1093.3M1792.4 582.4 L1366.7 1090.7M1786.6 577.6 L1361.3 1086.1M1782.5 574.1 L1357.7 1083.1M1777.9 570.3 L1353.3 1079.4M1774.6 567.5 L1348.1 1075.1M1770.5 564.1 L1343.1 1070.9M1765.5 559.9 L1339.2 1067.6M1759.9 555.2 L1334.4 1063.6M1755 551.1 L1329.5 1059.4M1750.5 547.3 L1325.1 1055.7M1745.9 543.4 L1319.9 1051.3M1743 541 L1315.6 1047.8M1738.1 536.8 L1311 1043.9M1732.8 532.4 L1306.3 1040M1729.5 529.6 L1302.8 1037M1723.6 524.7 L1297 1032.2M1719.1 520.9 L1294.4 1030M1714.8 517.3 L1289.8 1026.1M1710.4 513.6 L1283.7 1021M1706.8 510.6 L1278.9 1017M1701.1 505.8 L1275.8 1014.4M1697.6 502.9 L1270.9 1010.2M1691.6 497.9 L1266.1 1006.2M1688.7 495.4 L1262.7 1003.4M1684.1 491.6 L1256.5 998.2M1679.4 487.7 L1252.5 994.8M1674.7 483.7 L1247.7 990.8M1669.9 479.7 L1244.3 988M1664.4 475 L1238.9 983.4M1660.2 471.5 L1233.8 979.2M1655.1 467.3 L1231 976.8M1651.9 464.5 L1226.2 972.7M1647 460.4 L1220.1 967.6M1641.8 456.1 L1217.3 965.3M1638.6 453.4 L1211.1 960.1M1633 448.7 L1207.5 957.1M1628.9 445.3 L1203.5 953.7M1623.6 440.8 L1198.4 949.5M1619 436.9 L1193.4 945.3M1616.2 434.6 L1189.5 942M1611.3 430.5 L1183.8 937.1M1606 426 L1181 934.9M1602.4 423 L1175.8 930.5M1597.2 418.6 L1170.8 926.3M1592.8 415 L1166.8 922.9M1589.1 411.9 L1161.8 918.7M1583.9 407.5 L1158.4 915.9M1579.1 403.4 L1151.8 910.3M1575.4 400.4 L1149.1 908M1569.6 395.5 L1144.3 904" stroke="#a5d8ff" stroke-width="0.95" fill="none"/></g>
<path d="M1334.2 696L1606.7 696.1Q1629 696 1629 718.5L1629.6 771.9Q1629 794.5 1607.1 794.8L1334.9 794.8Q1312.5 794.5 1312.7 772.7L1312.3 717.7Q1312.5 696 1334.2 696Z" stroke="#1971c2" stroke-width="1.75" fill="none"/>
<path d="M1335.1 696.7L1607.9 696.4Q1629 696 1628.6 718.5L1629.5 772.5Q1629 794.5 1607.3 794.2L1334.6 794.3Q1312.5 794.5 1311.6 772.2L1312.1 719Q1312.5 696 1335.1 696.7Z" stroke="#1971c2" stroke-width="1" fill="none" opacity="0.75"/>
<g clip-path="url(#c11)"><path d="M1952.7 513.6 L2459.4 938.8M1948.9 518.2 L2455.6 943.3M1945.1 522.7 L2451.8 947.8M1941.3 527.2 L2448 952.4M1937.5 531.8 L2444.2 956.9M1933.7 536.3 L2440.4 961.5M1929.9 540.8 L2436.6 966M1926.1 545.4 L2432.8 970.5M1922.3 549.9 L2429 975.1M1918.5 554.5 L2425.1 979.6M1914.7 559 L2421.3 984.1M1910.9 563.5 L2417.5 988.7M1907.1 568.1 L2413.7 993.2M1903.3 572.6 L2409.9 997.7M1899.5 577.1 L2406.1 1002.3M1895.7 581.7 L2402.3 1006.8M1891.8 586.2 L2398.5 1011.3M1888 590.7 L2394.7 1015.9M1884.2 595.3 L2390.9 1020.4M1880.4 599.8 L2387.1 1024.9M1876.6 604.3 L2383.3 1029.5M1872.8 608.9 L2379.5 1034M1869 613.4 L2375.7 1038.5M1865.2 617.9 L2371.9 1043.1M1861.4 622.5 L2368.1 1047.6M1857.6 627 L2364.3 1052.1M1853.8 631.5 L2360.5 1056.7M1850 636.1 L2356.6 1061.2M1846.2 640.6 L2352.8 1065.8M1842.4 645.2 L2349 1070.3M1838.6 649.7 L2345.2 1074.8M1834.8 654.2 L2341.4 1079.4M1831 658.8 L2337.6 1083.9M1827.2 663.3 L2333.8 1088.4M1823.4 667.8 L2330 1093M1819.5 672.4 L2326.2 1097.5M1815.7 676.9 L2322.4 1102M1811.9 681.4 L2318.6 1106.6M1808.1 686 L2314.8 1111.1M1804.3 690.5 L2311 1115.6M1800.5 695 L2307.2 1120.2M1796.7 699.6 L2303.4 1124.7M1792.9 704.1 L2299.6 1129.2M1789.1 708.6 L2295.8 1133.8M1785.3 713.2 L2292 1138.3M1781.5 717.7 L2288.2 1142.8M1777.7 722.2 L2284.3 1147.4M2445 674.9 L2019.9 1181.5M2440.5 671.1 L2015.3 1177.7M2435.9 667.3 L2010.8 1173.9M2431.4 663.4 L2006.3 1170.1M2426.9 659.6 L2001.7 1166.3M2422.3 655.8 L1997.2 1162.5M2417.8 652 L1992.7 1158.7M2413.3 648.2 L1988.1 1154.9M2408.7 644.4 L1983.6 1151.1M2404.2 640.6 L1979.1 1147.3M2399.7 636.8 L1974.5 1143.5M2395.1 633 L1970 1139.7M2390.6 629.2 L1965.4 1135.9M2386.1 625.4 L1960.9 1132.1M2381.5 621.6 L1956.4 1128.3M2377 617.8 L1951.8 1124.4M2372.4 614 L1947.3 1120.6M2367.9 610.2 L1942.8 1116.8M2363.4 606.4 L1938.2 1113M2358.8 602.6 L1933.7 1109.2M2354.3 598.8 L1929.2 1105.4M2349.8 595 L1924.6 1101.6M2345.2 591.1 L1920.1 1097.8M2340.7 587.3 L1915.6 1094M2336.2 583.5 L1911 1090.2M2331.6 579.7 L1906.5 1086.4M2327.1 575.9 L1902 1082.6M2322.6 572.1 L1897.4 1078.8M2318 568.3 L1892.9 1075M2313.5 564.5 L1888.4 1071.2M2309 560.7 L1883.8 1067.4M2304.4 556.9 L1879.3 1063.6M2299.9 553.1 L1874.7 1059.8M2295.4 549.3 L1870.2 1055.9M2290.8 545.5 L1865.7 1052.1M2286.3 541.7 L1861.1 1048.3M2281.7 537.9 L1856.6 1044.5M2277.2 534.1 L1852.1 1040.7M2272.7 530.3 L1847.5 1036.9M2268.1 526.5 L1843 1033.1M2263.6 522.7 L1838.5 1029.3M2259.1 518.8 L1833.9 1025.5M2254.5 515 L1829.4 1021.7M2250 511.2 L1824.9 1017.9M2245.5 507.4 L1820.3 1014.1M2240.9 503.6 L1815.8 1010.3M2236.4 499.8 L1811.3 1006.5M2231.9 496 L1806.7 1002.7M2227.3 492.2 L1802.2 998.9M2222.8 488.4 L1797.7 995.1M2218.3 484.6 L1793.1 991.3M2213.7 480.8 L1788.6 987.5" stroke="#a5d8ff" stroke-width="1.05" fill="none"/><path d="M1952.6 513.7 L2458.6 939.7M1949.2 517.8 L2454.8 944.2M1945 522.9 L2452.5 946.9M1941.9 526.6 L2447.8 952.6M1936.6 532.8 L2444.4 956.6M1933.2 536.9 L2440.5 961.3M1929.2 541.6 L2437.3 965.1M1926.1 545.3 L2432 971.4M1922.7 549.4 L2429.4 974.5M1919.3 553.4 L2425.7 978.9M1915.1 558.5 L2421 984.6M1911.4 562.9 L2417.7 988.4M1907.6 567.4 L2413.5 993.4M1902.6 573.4 L2409.7 998M1900 576.5 L2405.7 1002.8M1894.8 582.7 L2402.1 1007M1892.6 585.3 L2398 1012M1887.4 591.5 L2395 1015.5M1884.9 594.5 L2391.5 1019.7M1880.4 599.9 L2386.4 1025.7M1876.4 604.6 L2382.5 1030.4M1873.3 608.3 L2379.8 1033.6M1868.6 613.9 L2375.4 1038.9M1865.4 617.7 L2371.5 1043.5M1861.7 622.1 L2368.9 1046.7M1857.8 626.8 L2365.1 1051.2M1853.6 631.8 L2360.8 1056.3M1850 636.1 L2356.5 1061.4M1846.6 640.1 L2352.9 1065.7M1843.3 644.1 L2348.3 1071.2M1838.5 649.8 L2344.4 1075.9M1835.6 653.3 L2341.2 1079.6M1830.6 659.2 L2337.9 1083.5M1827.9 662.4 L2334.4 1087.7M1824 667.1 L2329.5 1093.5M1820.3 671.5 L2325.6 1098.2M1815.9 676.7 L2322.3 1102.1M1811.8 681.6 L2318.5 1106.7M1807.8 686.3 L2314.6 1111.3M1804.6 690.1 L2310.6 1116.2M1801 694.5 L2306.8 1120.6M1796.2 700.1 L2302.9 1125.3M1793.3 703.7 L2299.1 1129.8M1788.2 709.7 L2295.8 1133.7M1785.7 712.7 L2291.9 1138.4M1780.7 718.7 L2288.8 1142.1M1778.6 721.2 L2284.4 1147.3M2444.4 674.4 L2020.2 1181.8M2439.4 670.2 L2015.9 1178.2M2435.4 666.8 L2011.7 1174.7M2432.4 664.3 L2007 1170.8M2427.8 660.4 L2001.7 1166.3M2422.2 655.7 L1997.9 1163.1M2416.9 651.2 L1992.9 1158.9M2414 648.9 L1988.8 1155.5M2408.2 644 L1982.7 1150.3M2404.9 641.2 L1980.1 1148.1M2399.1 636.3 L1975.1 1143.9M2394.1 632.1 L1970 1139.7M2390.3 629 L1965.8 1136.1M2385.4 624.9 L1961 1132.1M2381.9 621.9 L1955.5 1127.5M2377.8 618.5 L1951.3 1124M2373.4 614.8 L1947 1120.4M2368.1 610.3 L1942 1116.2M2364.3 607.2 L1938.1 1112.9M2359 602.7 L1932.8 1108.5M2353.4 598 L1928.9 1105.2M2350.4 595.4 L1925.2 1102.1M2345.7 591.6 L1920.2 1097.9M2341.3 587.8 L1916.2 1094.5M2335.6 583.1 L1910.7 1089.9M2332.1 580.1 L1905.4 1085.5M2327.7 576.4 L1901.8 1082.5M2323.3 572.7 L1896.6 1078.1M2317.2 567.7 L1893.4 1075.4M2313 564.1 L1887.7 1070.6M2309.4 561.1 L1884.2 1067.7M2304.5 556.9 L1878.4 1062.9M2300.6 553.7 L1874.4 1059.4M2295.1 549.1 L1870.3 1056M2290.6 545.3 L1864.9 1051.5M2286.9 542.2 L1860.3 1047.6M2282 538.1 L1856 1044M2276.4 533.4 L1852.8 1041.3M2271.9 529.6 L1846.5 1036M2268.6 526.8 L1844 1034M2264.4 523.4 L1837.5 1028.5M2260.1 519.7 L1833.1 1024.8M2255.3 515.7 L1828.9 1021.3M2250.9 512 L1825.6 1018.5M2245.1 507.1 L1821.2 1014.8M2241.3 503.9 L1814.9 1009.5M2235.9 499.4 L1810.4 1005.8M2230.8 495.2 L1807.7 1003.5M2227.9 492.7 L1801.6 998.3M2222.4 488.1 L1798.6 995.9M2218.2 484.6 L1793.7 991.7M2213.9 480.9 L1789.4 988.2" stroke="#a5d8ff" stroke-width="0.95" fill="none"/></g>
<path d="M1980.9 783.6L2253.3 783.5Q2275.5 783 2275 805L2275.1 858.4Q2275.5 880.5 2253.1 880.7L1981.1 880.8Q1959.5 880.5 1959.5 858L1959.3 805Q1959.5 783 1980.9 783.6Z" stroke="#1971c2" stroke-width="1.75" fill="none"/>
<path d="M1982.3 782.7L2252.9 783.9Q2275.5 783 2276.3 805.5L2275 857.9Q2275.5 880.5 2253 879.6L1980.6 880.5Q1959.5 880.5 1959.3 858.6L1959.2 804Q1959.5 783 1982.3 782.7Z" stroke="#1971c2" stroke-width="1" fill="none" opacity="0.75"/>
<g clip-path="url(#c12)"><path d="M2466.5 512.3 L2974.6 938.6M2462.7 516.8 L2970.8 943.2M2458.9 521.3 L2967 947.7M2455 525.9 L2963.2 952.2M2451.2 530.4 L2959.4 956.8M2447.4 534.9 L2955.6 961.3M2443.6 539.5 L2951.8 965.8M2439.8 544 L2948 970.4M2436 548.5 L2944.1 974.9M2432.2 553.1 L2940.3 979.4M2428.4 557.6 L2936.5 984M2424.6 562.1 L2932.7 988.5M2420.8 566.7 L2928.9 993M2417 571.2 L2925.1 997.6M2413.2 575.7 L2921.3 1002.1M2409.4 580.3 L2917.5 1006.6M2405.6 584.8 L2913.7 1011.2M2401.8 589.3 L2909.9 1015.7M2398 593.9 L2906.1 1020.3M2394.2 598.4 L2902.3 1024.8M2390.4 603 L2898.5 1029.3M2386.6 607.5 L2894.7 1033.9M2382.7 612 L2890.9 1038.4M2378.9 616.6 L2887.1 1042.9M2375.1 621.1 L2883.3 1047.5M2371.3 625.6 L2879.5 1052M2367.5 630.2 L2875.7 1056.5M2363.7 634.7 L2871.8 1061.1M2359.9 639.2 L2868 1065.6M2356.1 643.8 L2864.2 1070.1M2352.3 648.3 L2860.4 1074.7M2348.5 652.8 L2856.6 1079.2M2344.7 657.4 L2852.8 1083.7M2340.9 661.9 L2849 1088.3M2337.1 666.4 L2845.2 1092.8M2333.3 671 L2841.4 1097.3M2329.5 675.5 L2837.6 1101.9M2325.7 680 L2833.8 1106.4M2321.9 684.6 L2830 1111M2318.1 689.1 L2826.2 1115.5M2314.3 693.7 L2822.4 1120M2310.4 698.2 L2818.6 1124.6M2306.6 702.7 L2814.8 1129.1M2302.8 707.3 L2811 1133.6M2299 711.8 L2807.2 1138.2M2295.2 716.3 L2803.4 1142.7M2291.4 720.9 L2799.5 1147.2M2962.8 673.6 L2536.5 1181.7M2958.3 669.8 L2531.9 1177.9M2953.8 666 L2527.4 1174.1M2949.2 662.2 L2522.9 1170.3M2944.7 658.4 L2518.3 1166.5M2940.2 654.6 L2513.8 1162.7M2935.6 650.7 L2509.3 1158.9M2931.1 646.9 L2504.7 1155.1M2926.6 643.1 L2500.2 1151.3M2922 639.3 L2495.7 1147.5M2917.5 635.5 L2491.1 1143.7M2913 631.7 L2486.6 1139.8M2908.4 627.9 L2482.1 1136M2903.9 624.1 L2477.5 1132.2M2899.4 620.3 L2473 1128.4M2894.8 616.5 L2468.5 1124.6M2890.3 612.7 L2463.9 1120.8M2885.8 608.9 L2459.4 1117M2881.2 605.1 L2454.9 1113.2M2876.7 601.3 L2450.3 1109.4M2872.1 597.5 L2445.8 1105.6M2867.6 593.7 L2441.2 1101.8M2863.1 589.9 L2436.7 1098M2858.5 586.1 L2432.2 1094.2M2854 582.3 L2427.6 1090.4M2849.5 578.4 L2423.1 1086.6M2844.9 574.6 L2418.6 1082.8M2840.4 570.8 L2414 1079M2835.9 567 L2409.5 1075.2M2831.3 563.2 L2405 1071.4M2826.8 559.4 L2400.4 1067.5M2822.3 555.6 L2395.9 1063.7M2817.7 551.8 L2391.4 1059.9M2813.2 548 L2386.8 1056.1M2808.7 544.2 L2382.3 1052.3M2804.1 540.4 L2377.8 1048.5M2799.6 536.6 L2373.2 1044.7M2795.1 532.8 L2368.7 1040.9M2790.5 529 L2364.2 1037.1M2786 525.2 L2359.6 1033.3M2781.4 521.4 L2355.1 1029.5M2776.9 517.6 L2350.5 1025.7M2772.4 513.8 L2346 1021.9M2767.8 510 L2341.5 1018.1M2763.3 506.1 L2336.9 1014.3M2758.8 502.3 L2332.4 1010.5M2754.2 498.5 L2327.9 1006.7M2749.7 494.7 L2323.3 1002.9M2745.2 490.9 L2318.8 999.1M2740.6 487.1 L2314.3 995.2M2736.1 483.3 L2309.7 991.4M2731.6 479.5 L2305.2 987.6" stroke="#a5d8ff" stroke-width="1.05" fill="none"/><path d="M2467.4 511.2 L2974.4 938.9M2461.9 517.7 L2971.2 942.6M2458.7 521.6 L2967.2 947.4M2455.5 525.3 L2963.7 951.6M2451.9 529.6 L2958.8 957.5M2446.9 535.5 L2954.8 962.2M2444.4 538.5 L2951.4 966.2M2440.1 543.6 L2947.7 970.7M2435.9 548.6 L2944.5 974.5M2431.4 554.1 L2941.2 978.4M2428 558.1 L2935.9 984.7M2424.6 562.2 L2932.6 988.7M2419.9 567.7 L2929.4 992.5M2416.8 571.5 L2924.7 998.1M2413.4 575.5 L2920.9 1002.6M2409.6 580.1 L2917.5 1006.7M2405.4 585.1 L2913.4 1011.6M2402.1 589 L2909.7 1016M2397.9 594 L2906.6 1019.7M2394 598.7 L2902.7 1024.3M2389.6 603.8 L2898.5 1029.3M2386.2 608 L2894.6 1033.9M2382.8 612 L2891.4 1037.8M2379.6 615.8 L2886.3 1043.8M2375.1 621.2 L2883.2 1047.5M2371.3 625.7 L2878.9 1052.7M2368 629.6 L2876.2 1055.8M2363.1 635.4 L2871.9 1061M2359.7 639.5 L2867.5 1066.3M2355.4 644.6 L2863.6 1070.9M2353.1 647.3 L2860.6 1074.4M2347.9 653.6 L2856.1 1079.9M2345.4 656.6 L2853.4 1083M2341.3 661.4 L2849.7 1087.4M2337.3 666.1 L2844.7 1093.5M2333.2 671 L2841.5 1097.2M2330.2 674.6 L2837.8 1101.7M2324.8 681.1 L2833.4 1106.8M2322 684.5 L2830 1110.9M2317.5 689.8 L2825.7 1116M2314.9 692.9 L2822.1 1120.4M2310.7 697.9 L2818.5 1124.6M2307.1 702.2 L2815 1128.8M2303.1 706.9 L2811.2 1133.4M2299.9 710.8 L2807.7 1137.5M2295.1 716.5 L2804.1 1141.7M2292 720.2 L2799.2 1147.7M2963.2 673.9 L2537 1182.2M2957.6 669.2 L2532.8 1178.6M2953.5 665.7 L2526.6 1173.4M2949.9 662.7 L2523 1170.4M2944.1 657.8 L2518.1 1166.3M2940.4 654.8 L2514.8 1163.5M2935.8 650.9 L2509.6 1159.1M2930.6 646.6 L2505.2 1155.4M2926.8 643.3 L2499.9 1151M2921.4 638.8 L2496 1147.7M2917.7 635.7 L2491 1143.5M2912.1 631 L2487.3 1140.4M2907.4 627.1 L2481.6 1135.7M2904.2 624.3 L2477.2 1131.9M2899.7 620.6 L2473.9 1129.2M2894.3 616 L2468.7 1124.8M2890.2 612.6 L2463.9 1120.8M2884.9 608.2 L2458.8 1116.6M2882.2 605.9 L2454.7 1113M2876.8 601.3 L2450.4 1109.5M2871.4 596.9 L2446 1105.8M2867.7 593.7 L2440.4 1101.1M2863.2 590 L2436.7 1098M2858.5 586 L2431.5 1093.6M2853.6 581.9 L2427.1 1089.9M2849.7 578.6 L2424.1 1087.4M2844.6 574.3 L2418.5 1082.7M2839.8 570.4 L2413.5 1078.5M2836.7 567.7 L2410.1 1075.7M2832.2 564 L2404.3 1070.8M2827.7 560.1 L2401.3 1068.3M2821.7 555.2 L2395.8 1063.6M2818.7 552.6 L2391 1059.6M2812.7 547.6 L2386.9 1056.2M2809.6 545 L2381.9 1052M2804.3 540.5 L2377.6 1048.4M2798.5 535.7 L2372.5 1044.1M2794.3 532.1 L2369.4 1041.5M2790.9 529.3 L2364.1 1037.1M2787 526.1 L2358.6 1032.4M2781.9 521.8 L2355.6 1029.9M2777.3 517.9 L2351.1 1026.1M2771.6 513.1 L2345.9 1021.8M2767.8 509.9 L2341.6 1018.2M2764.3 507 L2337.4 1014.6M2758 501.7 L2331.8 1009.9M2753.5 497.9 L2328.4 1007.1M2750.3 495.3 L2324.3 1003.7M2745.1 490.9 L2319.1 999.3M2740.7 487.2 L2314.3 995.3M2735.9 483.2 L2310 991.7M2730.9 479 L2305.8 988.2" stroke="#a5d8ff" stroke-width="0.95" fill="none"/></g>
<path d="M2497 781.1L2769 780.8Q2791.5 781 2791.5 802.9L2791.6 856.3Q2791.5 878.5 2769.2 878.9L2496.2 878.8Q2474.5 878.5 2474.9 856.6L2474.4 803.5Q2474.5 781 2497 781.1Z" stroke="#1971c2" stroke-width="1.75" fill="none"/>
<path d="M2496.4 781.8L2768.6 780.9Q2791.5 781 2791.8 802.1L2792.2 855.6Q2791.5 878.5 2769.7 877.9L2497.3 878.6Q2474.5 878.5 2475.1 856.5L2474.8 803.3Q2474.5 781 2496.4 781.8Z" stroke="#1971c2" stroke-width="1" fill="none" opacity="0.75"/>
<path d="M362 432.4 L688.5 441.8" stroke="#2f9e44" stroke-width="1.35" fill="none" stroke-linecap="round"/>
<path d="M362 432.7 Q525.2 438.7 688.4 444.3" stroke="#2f9e44" stroke-width="1.15" fill="none" stroke-linecap="round"/>
<path d="M654.1 428.1 L688.5 441.8 L653.4 453.4" stroke="#2f9e44" stroke-width="2" fill="none" stroke-linecap="round" stroke-linejoin="round"/>
<path d="M401 630.3 L688.5 616" stroke="#2f9e44" stroke-width="1.35" fill="none" stroke-linecap="round"/>
<path d="M401 630.8 Q544.8 624.2 688.5 616.5" stroke="#2f9e44" stroke-width="1.15" fill="none" stroke-linecap="round"/>
<path d="M653.1 605.1 L688.5 616 L654.4 630.4" stroke="#2f9e44" stroke-width="2" fill="none" stroke-linecap="round" stroke-linejoin="round"/>
<path d="M424 827.5 L717 818" stroke="#2f9e44" stroke-width="1.35" fill="none" stroke-linecap="round"/>
<path d="M424.1 830 Q570.5 823.7 717 818.3" stroke="#2f9e44" stroke-width="1.15" fill="none" stroke-linecap="round"/>
<path d="M681.8 806.5 L717 818 L682.7 831.8" stroke="#2f9e44" stroke-width="2" fill="none" stroke-linecap="round" stroke-linejoin="round"/>
<path d="M424.6 1017.7 L700.2 1019.8" stroke="#2f9e44" stroke-width="1.35" fill="none" stroke-linecap="round"/>
<path d="M424.6 1018 Q562.4 1019.6 700.2 1021" stroke="#2f9e44" stroke-width="1.15" fill="none" stroke-linecap="round"/>
<path d="M665.5 1006.9 L700.2 1019.8 L665.3 1032.2" stroke="#2f9e44" stroke-width="2" fill="none" stroke-linecap="round" stroke-linejoin="round"/>
<path d="M1022.4 441.5 L1299.8 451.2" stroke="#1971c2" stroke-width="1.35" fill="none" stroke-linecap="round"/>
<path d="M1022.4 441.8 Q1161.1 447 1299.7 452.7" stroke="#1971c2" stroke-width="1.15" fill="none" stroke-linecap="round"/>
<path d="M1265.5 437.3 L1299.8 451.2 L1264.6 462.6" stroke="#1971c2" stroke-width="2" fill="none" stroke-linecap="round" stroke-linejoin="round"/>
<path d="M1041 621 L1301.8 739.8" stroke="#1971c2" stroke-width="1.35" fill="none" stroke-linecap="round"/>
<path d="M1040.2 622.8 Q1170.7 682 1301.6 740.3" stroke="#1971c2" stroke-width="1.15" fill="none" stroke-linecap="round"/>
<path d="M1275.4 713.9 L1301.8 739.8 L1264.9 736.9" stroke="#1971c2" stroke-width="2" fill="none" stroke-linecap="round" stroke-linejoin="round"/>
<path d="M1054 821 L1301.4 748.7" stroke="#1971c2" stroke-width="1.35" fill="none" stroke-linecap="round"/>
<path d="M1054.7 823.4 Q1178.3 786.9 1301.5 749.2" stroke="#1971c2" stroke-width="1.15" fill="none" stroke-linecap="round"/>
<path d="M1264.5 746.3 L1301.4 748.7 L1271.6 770.6" stroke="#1971c2" stroke-width="2" fill="none" stroke-linecap="round" stroke-linejoin="round"/>
<path d="M1047.3 1019 L1947.5 823.6" stroke="#1971c2" stroke-width="1.35" fill="none" stroke-linecap="round"/>
<path d="M1047.6 1020.5 Q1498.1 924.4 1947.7 824.6" stroke="#1971c2" stroke-width="1.15" fill="none" stroke-linecap="round"/>
<path d="M1910.8 818.6 L1947.5 823.6 L1916.2 843.3" stroke="#1971c2" stroke-width="2" fill="none" stroke-linecap="round" stroke-linejoin="round"/>
<path d="M1631.8 162.7 L1960 777.8" stroke="#1971c2" stroke-width="1.35" fill="none" stroke-linecap="round"/>
<path d="M1631.5 162.8 Q1794.8 470.8 1958.2 778.7" stroke="#1971c2" stroke-width="1.15" fill="none" stroke-linecap="round"/>
<path d="M1954.8 741.2 L1960 777.8 L1932.5 753.1" stroke="#1971c2" stroke-width="2" fill="none" stroke-linecap="round" stroke-linejoin="round"/>
<path d="M1639.5 448.3 L1943.3 782.6" stroke="#1971c2" stroke-width="1.35" fill="none" stroke-linecap="round"/>
<path d="M1639.3 448.5 Q1790.7 616.1 1943.1 782.8" stroke="#1971c2" stroke-width="1.15" fill="none" stroke-linecap="round"/>
<path d="M1929.3 748.4 L1943.3 782.6 L1910.6 765.4" stroke="#1971c2" stroke-width="2" fill="none" stroke-linecap="round" stroke-linejoin="round"/>
<path d="M1646 743.8 L1948.5 815.7" stroke="#1971c2" stroke-width="1.35" fill="none" stroke-linecap="round"/>
<path d="M1645.5 745.7 Q1796.9 781.4 1948.4 816.3" stroke="#1971c2" stroke-width="1.15" fill="none" stroke-linecap="round"/>
<path d="M1917.6 795.3 L1948.5 815.7 L1911.7 820" stroke="#1971c2" stroke-width="2" fill="none" stroke-linecap="round" stroke-linejoin="round"/>
<path d="M2292.6 840.4 L2461.4 833.9" stroke="#1971c2" stroke-width="1.35" fill="none" stroke-linecap="round"/>
<path d="M2292.7 842.4 Q2377 838.3 2461.4 834.4" stroke="#1971c2" stroke-width="1.15" fill="none" stroke-linecap="round"/>
<path d="M2426.2 822.6 L2461.4 833.9 L2427.1 847.9" stroke="#1971c2" stroke-width="2" fill="none" stroke-linecap="round" stroke-linejoin="round"/>
<path d="M1155.3 29.3 L1155 1347" stroke="#1e1e1e" stroke-width="2.6" fill="none" stroke-linecap="round" stroke-dasharray="10.8 14.35"/>
<path d="M1156.5 581 L2670.4 583.3" stroke="#1e1e1e" stroke-width="2.6" fill="none" stroke-linecap="round" stroke-dasharray="10.8 14.4"/>
<g transform="translate(490 1170) scale(0.069881)" fill="none" stroke="#1e1e1e" stroke-width="42" stroke-linecap="round" stroke-linejoin="round"><g transform="translate(0 0)"><path d="M296 265 C420 288 552 352 568 450 C580 515 470 545 300 553"/><path d="M368 325 C358 400 362 470 385 525"/><path d="M731 402 C777 402 815 432 815 472 C815 512 777 542 731 542 C685 542 647 512 647 472 C647 432 685 402 731 402 Z"/><path d="M878 428 L883 545 L958 422 L963 534 L1054 411 C1065 440 1075 500 1088 548"/><path d="M1276 416 C1215 399 1136 454 1133 499 C1129 540 1198 550 1242 516 C1266 495 1280 454 1283 427 C1300 461 1328 516 1376 543"/><path d="M1437 433 L1451 543"/><path d="M1424 326 L1452 343"/><path d="M1522 405 L1518 545 L1615 395 C1640 420 1650 480 1672 550"/></g><path d="M1910 565 C2000 480 2085 385 2122 262 C2125 360 2128 470 2132 566"/><path d="M1988 510 L2165 466"/></g>
<g transform="translate(1450 1175) scale(0.069881)" fill="none" stroke="#1e1e1e" stroke-width="42" stroke-linecap="round" stroke-linejoin="round"><g transform="translate(10 27)"><path d="M296 265 C420 288 552 352 568 450 C580 515 470 545 300 553"/><path d="M368 325 C358 400 362 470 385 525"/><path d="M731 402 C777 402 815 432 815 472 C815 512 777 542 731 542 C685 542 647 512 647 472 C647 432 685 402 731 402 Z"/><path d="M878 428 L883 545 L958 422 L963 534 L1054 411 C1065 440 1075 500 1088 548"/><path d="M1276 416 C1215 399 1136 454 1133 499 C1129 540 1198 550 1242 516 C1266 495 1280 454 1283 427 C1300 461 1328 516 1376 543"/><path d="M1437 433 L1451 543"/><path d="M1424 326 L1452 343"/><path d="M1522 405 L1518 545 L1615 395 C1640 420 1650 480 1672 550"/></g><path d="M1930 272 C2040 275 2175 300 2178 380 C2180 420 2100 435 2010 435 C2120 440 2195 470 2195 535 C2195 590 2060 595 1925 585"/><path d="M1995 300 C1992 380 1998 470 2010 565"/></g>
<g transform="translate(1980 390) scale(0.069881)" fill="none" stroke="#1e1e1e" stroke-width="42" stroke-linecap="round" stroke-linejoin="round"><g transform="translate(-20 -20)"><path d="M296 265 C420 288 552 352 568 450 C580 515 470 545 300 553"/><path d="M368 325 C358 400 362 470 385 525"/><path d="M731 402 C777 402 815 432 815 472 C815 512 777 542 731 542 C685 542 647 512 647 472 C647 432 685 402 731 402 Z"/><path d="M878 428 L883 545 L958 422 L963 534 L1054 411 C1065 440 1075 500 1088 548"/><path d="M1276 416 C1215 399 1136 454 1133 499 C1129 540 1198 550 1242 516 C1266 495 1280 454 1283 427 C1300 461 1328 516 1376 543"/><path d="M1437 433 L1451 543"/><path d="M1424 326 L1452 343"/><path d="M1522 405 L1518 545 L1615 395 C1640 420 1650 480 1672 550"/></g><path d="M2082 380 C2080 330 2070 280 2045 282 C1960 295 1898 370 1905 430 C1915 515 2030 548 2110 510"/></g>
</svg></body></html>
